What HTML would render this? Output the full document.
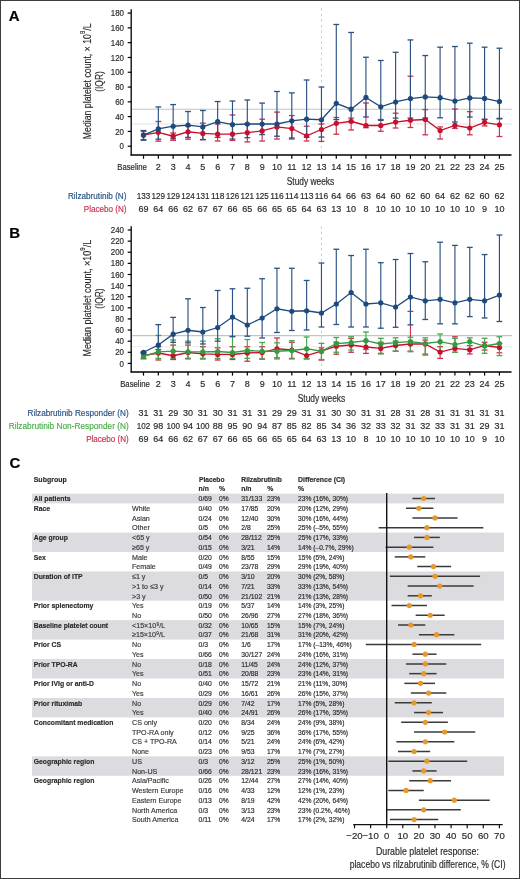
<!DOCTYPE html>
<html><head><meta charset="utf-8"><style>
html,body{margin:0;padding:0;background:#fff;width:520px;height:879px;overflow:hidden}
svg{display:block;will-change:transform}
text{font-family:"Liberation Sans",sans-serif}
</style></head><body>
<svg width="520" height="879" viewBox="0 0 520 879" font-family="Liberation Sans">
<rect x="0" y="0" width="520" height="879" fill="#fff"/>
<text x="8.70" y="20.90" font-size="15" text-anchor="start" fill="#000" stroke="#000" stroke-width="0.18" font-weight="bold">A</text>
<line x1="132.20" y1="109.22" x2="512.00" y2="109.22" stroke="#c4c4c4" stroke-width="1"/>
<line x1="132.20" y1="124.01" x2="512.00" y2="124.01" stroke="#ececec" stroke-width="1.3"/>
<line x1="321.46" y1="8.50" x2="321.46" y2="155.00" stroke="#c4cad2" stroke-width="1" stroke-dasharray="2.3,3.2"/>
<line x1="127.70" y1="146.20" x2="131.20" y2="146.20" stroke="#000" stroke-width="1.2"/>
<text transform="translate(124.00,149.30) scale(0.88,1)" font-size="9" text-anchor="end" fill="#2a2a2a" stroke="#2a2a2a" stroke-width="0.18">0</text>
<line x1="127.70" y1="131.41" x2="131.20" y2="131.41" stroke="#000" stroke-width="1.2"/>
<text transform="translate(124.00,134.51) scale(0.88,1)" font-size="9" text-anchor="end" fill="#2a2a2a" stroke="#2a2a2a" stroke-width="0.18">20</text>
<line x1="127.70" y1="116.62" x2="131.20" y2="116.62" stroke="#000" stroke-width="1.2"/>
<text transform="translate(124.00,119.72) scale(0.88,1)" font-size="9" text-anchor="end" fill="#2a2a2a" stroke="#2a2a2a" stroke-width="0.18">40</text>
<line x1="127.70" y1="101.83" x2="131.20" y2="101.83" stroke="#000" stroke-width="1.2"/>
<text transform="translate(124.00,104.93) scale(0.88,1)" font-size="9" text-anchor="end" fill="#2a2a2a" stroke="#2a2a2a" stroke-width="0.18">60</text>
<line x1="127.70" y1="87.04" x2="131.20" y2="87.04" stroke="#000" stroke-width="1.2"/>
<text transform="translate(124.00,90.14) scale(0.88,1)" font-size="9" text-anchor="end" fill="#2a2a2a" stroke="#2a2a2a" stroke-width="0.18">80</text>
<line x1="127.70" y1="72.25" x2="131.20" y2="72.25" stroke="#000" stroke-width="1.2"/>
<text transform="translate(124.00,75.35) scale(0.88,1)" font-size="9" text-anchor="end" fill="#2a2a2a" stroke="#2a2a2a" stroke-width="0.18">100</text>
<line x1="127.70" y1="57.46" x2="131.20" y2="57.46" stroke="#000" stroke-width="1.2"/>
<text transform="translate(124.00,60.56) scale(0.88,1)" font-size="9" text-anchor="end" fill="#2a2a2a" stroke="#2a2a2a" stroke-width="0.18">120</text>
<line x1="127.70" y1="42.67" x2="131.20" y2="42.67" stroke="#000" stroke-width="1.2"/>
<text transform="translate(124.00,45.77) scale(0.88,1)" font-size="9" text-anchor="end" fill="#2a2a2a" stroke="#2a2a2a" stroke-width="0.18">140</text>
<line x1="127.70" y1="27.88" x2="131.20" y2="27.88" stroke="#000" stroke-width="1.2"/>
<text transform="translate(124.00,30.98) scale(0.88,1)" font-size="9" text-anchor="end" fill="#2a2a2a" stroke="#2a2a2a" stroke-width="0.18">160</text>
<line x1="127.70" y1="13.09" x2="131.20" y2="13.09" stroke="#000" stroke-width="1.2"/>
<text transform="translate(124.00,16.19) scale(0.88,1)" font-size="9" text-anchor="end" fill="#2a2a2a" stroke="#2a2a2a" stroke-width="0.18">180</text>
<line x1="131.20" y1="9.20" x2="131.20" y2="155.60" stroke="#000" stroke-width="1.3"/>
<line x1="130.60" y1="155.00" x2="511.50" y2="155.00" stroke="#000" stroke-width="1.3"/>
<line x1="143.50" y1="155.00" x2="143.50" y2="158.80" stroke="#000" stroke-width="1.2"/>
<line x1="158.33" y1="155.00" x2="158.33" y2="158.80" stroke="#000" stroke-width="1.2"/>
<line x1="173.16" y1="155.00" x2="173.16" y2="158.80" stroke="#000" stroke-width="1.2"/>
<line x1="187.99" y1="155.00" x2="187.99" y2="158.80" stroke="#000" stroke-width="1.2"/>
<line x1="202.82" y1="155.00" x2="202.82" y2="158.80" stroke="#000" stroke-width="1.2"/>
<line x1="217.65" y1="155.00" x2="217.65" y2="158.80" stroke="#000" stroke-width="1.2"/>
<line x1="232.48" y1="155.00" x2="232.48" y2="158.80" stroke="#000" stroke-width="1.2"/>
<line x1="247.31" y1="155.00" x2="247.31" y2="158.80" stroke="#000" stroke-width="1.2"/>
<line x1="262.14" y1="155.00" x2="262.14" y2="158.80" stroke="#000" stroke-width="1.2"/>
<line x1="276.97" y1="155.00" x2="276.97" y2="158.80" stroke="#000" stroke-width="1.2"/>
<line x1="291.80" y1="155.00" x2="291.80" y2="158.80" stroke="#000" stroke-width="1.2"/>
<line x1="306.63" y1="155.00" x2="306.63" y2="158.80" stroke="#000" stroke-width="1.2"/>
<line x1="321.46" y1="155.00" x2="321.46" y2="158.80" stroke="#000" stroke-width="1.2"/>
<line x1="336.29" y1="155.00" x2="336.29" y2="158.80" stroke="#000" stroke-width="1.2"/>
<line x1="351.12" y1="155.00" x2="351.12" y2="158.80" stroke="#000" stroke-width="1.2"/>
<line x1="365.95" y1="155.00" x2="365.95" y2="158.80" stroke="#000" stroke-width="1.2"/>
<line x1="380.78" y1="155.00" x2="380.78" y2="158.80" stroke="#000" stroke-width="1.2"/>
<line x1="395.61" y1="155.00" x2="395.61" y2="158.80" stroke="#000" stroke-width="1.2"/>
<line x1="410.44" y1="155.00" x2="410.44" y2="158.80" stroke="#000" stroke-width="1.2"/>
<line x1="425.27" y1="155.00" x2="425.27" y2="158.80" stroke="#000" stroke-width="1.2"/>
<line x1="440.10" y1="155.00" x2="440.10" y2="158.80" stroke="#000" stroke-width="1.2"/>
<line x1="454.93" y1="155.00" x2="454.93" y2="158.80" stroke="#000" stroke-width="1.2"/>
<line x1="469.76" y1="155.00" x2="469.76" y2="158.80" stroke="#000" stroke-width="1.2"/>
<line x1="484.59" y1="155.00" x2="484.59" y2="158.80" stroke="#000" stroke-width="1.2"/>
<line x1="499.42" y1="155.00" x2="499.42" y2="158.80" stroke="#000" stroke-width="1.2"/>
<text x="132.10" y="170.20" font-size="9" text-anchor="middle" fill="#2b2b2b" stroke="#2b2b2b" stroke-width="0.18" textLength="29.6" lengthAdjust="spacingAndGlyphs">Baseline</text>
<text x="158.33" y="170.20" font-size="9" text-anchor="middle" fill="#2b2b2b" stroke="#2b2b2b" stroke-width="0.18">2</text>
<text x="173.16" y="170.20" font-size="9" text-anchor="middle" fill="#2b2b2b" stroke="#2b2b2b" stroke-width="0.18">3</text>
<text x="187.99" y="170.20" font-size="9" text-anchor="middle" fill="#2b2b2b" stroke="#2b2b2b" stroke-width="0.18">4</text>
<text x="202.82" y="170.20" font-size="9" text-anchor="middle" fill="#2b2b2b" stroke="#2b2b2b" stroke-width="0.18">5</text>
<text x="217.65" y="170.20" font-size="9" text-anchor="middle" fill="#2b2b2b" stroke="#2b2b2b" stroke-width="0.18">6</text>
<text x="232.48" y="170.20" font-size="9" text-anchor="middle" fill="#2b2b2b" stroke="#2b2b2b" stroke-width="0.18">7</text>
<text x="247.31" y="170.20" font-size="9" text-anchor="middle" fill="#2b2b2b" stroke="#2b2b2b" stroke-width="0.18">8</text>
<text x="262.14" y="170.20" font-size="9" text-anchor="middle" fill="#2b2b2b" stroke="#2b2b2b" stroke-width="0.18">9</text>
<text x="276.97" y="170.20" font-size="9" text-anchor="middle" fill="#2b2b2b" stroke="#2b2b2b" stroke-width="0.18">10</text>
<text x="291.80" y="170.20" font-size="9" text-anchor="middle" fill="#2b2b2b" stroke="#2b2b2b" stroke-width="0.18">11</text>
<text x="306.63" y="170.20" font-size="9" text-anchor="middle" fill="#2b2b2b" stroke="#2b2b2b" stroke-width="0.18">12</text>
<text x="321.46" y="170.20" font-size="9" text-anchor="middle" fill="#2b2b2b" stroke="#2b2b2b" stroke-width="0.18">13</text>
<text x="336.29" y="170.20" font-size="9" text-anchor="middle" fill="#2b2b2b" stroke="#2b2b2b" stroke-width="0.18">14</text>
<text x="351.12" y="170.20" font-size="9" text-anchor="middle" fill="#2b2b2b" stroke="#2b2b2b" stroke-width="0.18">15</text>
<text x="365.95" y="170.20" font-size="9" text-anchor="middle" fill="#2b2b2b" stroke="#2b2b2b" stroke-width="0.18">16</text>
<text x="380.78" y="170.20" font-size="9" text-anchor="middle" fill="#2b2b2b" stroke="#2b2b2b" stroke-width="0.18">17</text>
<text x="395.61" y="170.20" font-size="9" text-anchor="middle" fill="#2b2b2b" stroke="#2b2b2b" stroke-width="0.18">18</text>
<text x="410.44" y="170.20" font-size="9" text-anchor="middle" fill="#2b2b2b" stroke="#2b2b2b" stroke-width="0.18">19</text>
<text x="425.27" y="170.20" font-size="9" text-anchor="middle" fill="#2b2b2b" stroke="#2b2b2b" stroke-width="0.18">20</text>
<text x="440.10" y="170.20" font-size="9" text-anchor="middle" fill="#2b2b2b" stroke="#2b2b2b" stroke-width="0.18">21</text>
<text x="454.93" y="170.20" font-size="9" text-anchor="middle" fill="#2b2b2b" stroke="#2b2b2b" stroke-width="0.18">22</text>
<text x="469.76" y="170.20" font-size="9" text-anchor="middle" fill="#2b2b2b" stroke="#2b2b2b" stroke-width="0.18">23</text>
<text x="484.59" y="170.20" font-size="9" text-anchor="middle" fill="#2b2b2b" stroke="#2b2b2b" stroke-width="0.18">24</text>
<text x="499.42" y="170.20" font-size="9" text-anchor="middle" fill="#2b2b2b" stroke="#2b2b2b" stroke-width="0.18">25</text>
<text x="310.50" y="185.00" font-size="10.6" text-anchor="middle" fill="#2b2b2b" stroke="#2b2b2b" stroke-width="0.18" textLength="47.5" lengthAdjust="spacingAndGlyphs">Study weeks</text>
<text transform="translate(91.2,81.35) rotate(-90)" font-size="10.6" text-anchor="middle" fill="#2b2b2b" stroke="#2b2b2b" stroke-width="0.15" textLength="115.8" lengthAdjust="spacingAndGlyphs">Median platelet count, × 10<tspan font-size="7.2" dy="-6.3">9</tspan><tspan dy="6.3">/L</tspan></text>
<text transform="translate(103.4,81.5) rotate(-90)" font-size="10.6" text-anchor="middle" fill="#2b2b2b" stroke="#2b2b2b" stroke-width="0.15" textLength="20.5" lengthAdjust="spacingAndGlyphs">(IQR)</text>
<line x1="143.50" y1="139.54" x2="143.50" y2="131.41" stroke="#c8334f" stroke-width="1.15"/>
<line x1="140.60" y1="131.41" x2="146.40" y2="131.41" stroke="#c8334f" stroke-width="1.3"/>
<line x1="140.60" y1="139.54" x2="146.40" y2="139.54" stroke="#c8334f" stroke-width="1.3"/>
<line x1="158.33" y1="141.17" x2="158.33" y2="121.50" stroke="#c8334f" stroke-width="1.15"/>
<line x1="155.43" y1="121.50" x2="161.23" y2="121.50" stroke="#c8334f" stroke-width="1.3"/>
<line x1="155.43" y1="141.17" x2="161.23" y2="141.17" stroke="#c8334f" stroke-width="1.3"/>
<line x1="173.16" y1="140.28" x2="173.16" y2="133.04" stroke="#c8334f" stroke-width="1.15"/>
<line x1="170.26" y1="133.04" x2="176.06" y2="133.04" stroke="#c8334f" stroke-width="1.3"/>
<line x1="170.26" y1="140.28" x2="176.06" y2="140.28" stroke="#c8334f" stroke-width="1.3"/>
<line x1="187.99" y1="139.17" x2="187.99" y2="126.23" stroke="#c8334f" stroke-width="1.15"/>
<line x1="185.09" y1="126.23" x2="190.89" y2="126.23" stroke="#c8334f" stroke-width="1.3"/>
<line x1="185.09" y1="139.17" x2="190.89" y2="139.17" stroke="#c8334f" stroke-width="1.3"/>
<line x1="202.82" y1="139.54" x2="202.82" y2="123.13" stroke="#c8334f" stroke-width="1.15"/>
<line x1="199.92" y1="123.13" x2="205.72" y2="123.13" stroke="#c8334f" stroke-width="1.3"/>
<line x1="199.92" y1="139.54" x2="205.72" y2="139.54" stroke="#c8334f" stroke-width="1.3"/>
<line x1="217.65" y1="141.02" x2="217.65" y2="124.01" stroke="#c8334f" stroke-width="1.15"/>
<line x1="214.75" y1="124.01" x2="220.55" y2="124.01" stroke="#c8334f" stroke-width="1.3"/>
<line x1="214.75" y1="141.02" x2="220.55" y2="141.02" stroke="#c8334f" stroke-width="1.3"/>
<line x1="232.48" y1="140.43" x2="232.48" y2="114.99" stroke="#c8334f" stroke-width="1.15"/>
<line x1="229.58" y1="114.99" x2="235.38" y2="114.99" stroke="#c8334f" stroke-width="1.3"/>
<line x1="229.58" y1="140.43" x2="235.38" y2="140.43" stroke="#c8334f" stroke-width="1.3"/>
<line x1="247.31" y1="141.91" x2="247.31" y2="124.01" stroke="#c8334f" stroke-width="1.15"/>
<line x1="244.41" y1="124.01" x2="250.21" y2="124.01" stroke="#c8334f" stroke-width="1.3"/>
<line x1="244.41" y1="141.91" x2="250.21" y2="141.91" stroke="#c8334f" stroke-width="1.3"/>
<line x1="262.14" y1="141.02" x2="262.14" y2="119.21" stroke="#c8334f" stroke-width="1.15"/>
<line x1="259.24" y1="119.21" x2="265.04" y2="119.21" stroke="#c8334f" stroke-width="1.3"/>
<line x1="259.24" y1="141.02" x2="265.04" y2="141.02" stroke="#c8334f" stroke-width="1.3"/>
<line x1="276.97" y1="139.03" x2="276.97" y2="112.11" stroke="#c8334f" stroke-width="1.15"/>
<line x1="274.07" y1="112.11" x2="279.87" y2="112.11" stroke="#c8334f" stroke-width="1.3"/>
<line x1="274.07" y1="139.03" x2="279.87" y2="139.03" stroke="#c8334f" stroke-width="1.3"/>
<line x1="291.80" y1="139.03" x2="291.80" y2="115.58" stroke="#c8334f" stroke-width="1.15"/>
<line x1="288.90" y1="115.58" x2="294.70" y2="115.58" stroke="#c8334f" stroke-width="1.3"/>
<line x1="288.90" y1="139.03" x2="294.70" y2="139.03" stroke="#c8334f" stroke-width="1.3"/>
<line x1="306.63" y1="141.02" x2="306.63" y2="126.23" stroke="#c8334f" stroke-width="1.15"/>
<line x1="303.73" y1="126.23" x2="309.53" y2="126.23" stroke="#c8334f" stroke-width="1.3"/>
<line x1="303.73" y1="141.02" x2="309.53" y2="141.02" stroke="#c8334f" stroke-width="1.3"/>
<line x1="321.46" y1="141.39" x2="321.46" y2="124.01" stroke="#c8334f" stroke-width="1.15"/>
<line x1="318.56" y1="124.01" x2="324.36" y2="124.01" stroke="#c8334f" stroke-width="1.3"/>
<line x1="318.56" y1="141.39" x2="324.36" y2="141.39" stroke="#c8334f" stroke-width="1.3"/>
<line x1="336.29" y1="134.22" x2="336.29" y2="117.51" stroke="#c8334f" stroke-width="1.15"/>
<line x1="333.39" y1="117.51" x2="339.19" y2="117.51" stroke="#c8334f" stroke-width="1.3"/>
<line x1="333.39" y1="134.22" x2="339.19" y2="134.22" stroke="#c8334f" stroke-width="1.3"/>
<line x1="351.12" y1="130.00" x2="351.12" y2="118.10" stroke="#c8334f" stroke-width="1.15"/>
<line x1="348.22" y1="118.10" x2="354.02" y2="118.10" stroke="#c8334f" stroke-width="1.3"/>
<line x1="348.22" y1="130.00" x2="354.02" y2="130.00" stroke="#c8334f" stroke-width="1.3"/>
<line x1="365.95" y1="127.71" x2="365.95" y2="103.01" stroke="#c8334f" stroke-width="1.15"/>
<line x1="363.05" y1="103.01" x2="368.85" y2="103.01" stroke="#c8334f" stroke-width="1.3"/>
<line x1="363.05" y1="127.71" x2="368.85" y2="127.71" stroke="#c8334f" stroke-width="1.3"/>
<line x1="380.78" y1="131.26" x2="380.78" y2="119.50" stroke="#c8334f" stroke-width="1.15"/>
<line x1="377.88" y1="119.50" x2="383.68" y2="119.50" stroke="#c8334f" stroke-width="1.3"/>
<line x1="377.88" y1="131.26" x2="383.68" y2="131.26" stroke="#c8334f" stroke-width="1.3"/>
<line x1="395.61" y1="128.01" x2="395.61" y2="113.22" stroke="#c8334f" stroke-width="1.15"/>
<line x1="392.71" y1="113.22" x2="398.51" y2="113.22" stroke="#c8334f" stroke-width="1.3"/>
<line x1="392.71" y1="128.01" x2="398.51" y2="128.01" stroke="#c8334f" stroke-width="1.3"/>
<line x1="410.44" y1="127.49" x2="410.44" y2="76.24" stroke="#c8334f" stroke-width="1.15"/>
<line x1="407.54" y1="76.24" x2="413.34" y2="76.24" stroke="#c8334f" stroke-width="1.3"/>
<line x1="407.54" y1="127.49" x2="413.34" y2="127.49" stroke="#c8334f" stroke-width="1.3"/>
<line x1="425.27" y1="134.81" x2="425.27" y2="109.59" stroke="#c8334f" stroke-width="1.15"/>
<line x1="422.37" y1="109.59" x2="428.17" y2="109.59" stroke="#c8334f" stroke-width="1.3"/>
<line x1="422.37" y1="134.81" x2="428.17" y2="134.81" stroke="#c8334f" stroke-width="1.3"/>
<line x1="440.10" y1="139.03" x2="440.10" y2="126.90" stroke="#c8334f" stroke-width="1.15"/>
<line x1="437.20" y1="126.90" x2="443.00" y2="126.90" stroke="#c8334f" stroke-width="1.3"/>
<line x1="437.20" y1="139.03" x2="443.00" y2="139.03" stroke="#c8334f" stroke-width="1.3"/>
<line x1="454.93" y1="128.45" x2="454.93" y2="109.00" stroke="#c8334f" stroke-width="1.15"/>
<line x1="452.03" y1="109.00" x2="457.83" y2="109.00" stroke="#c8334f" stroke-width="1.3"/>
<line x1="452.03" y1="128.45" x2="457.83" y2="128.45" stroke="#c8334f" stroke-width="1.3"/>
<line x1="469.76" y1="134.81" x2="469.76" y2="111.67" stroke="#c8334f" stroke-width="1.15"/>
<line x1="466.86" y1="111.67" x2="472.66" y2="111.67" stroke="#c8334f" stroke-width="1.3"/>
<line x1="466.86" y1="134.81" x2="472.66" y2="134.81" stroke="#c8334f" stroke-width="1.3"/>
<line x1="484.59" y1="125.94" x2="484.59" y2="119.13" stroke="#c8334f" stroke-width="1.15"/>
<line x1="481.69" y1="119.13" x2="487.49" y2="119.13" stroke="#c8334f" stroke-width="1.3"/>
<line x1="481.69" y1="125.94" x2="487.49" y2="125.94" stroke="#c8334f" stroke-width="1.3"/>
<line x1="499.42" y1="136.51" x2="499.42" y2="118.91" stroke="#c8334f" stroke-width="1.15"/>
<line x1="496.52" y1="118.91" x2="502.32" y2="118.91" stroke="#c8334f" stroke-width="1.3"/>
<line x1="496.52" y1="136.51" x2="502.32" y2="136.51" stroke="#c8334f" stroke-width="1.3"/>
<line x1="143.50" y1="140.28" x2="143.50" y2="130.52" stroke="#2b5282" stroke-width="1.15"/>
<line x1="140.60" y1="130.52" x2="146.40" y2="130.52" stroke="#2b5282" stroke-width="1.3"/>
<line x1="140.60" y1="140.28" x2="146.40" y2="140.28" stroke="#2b5282" stroke-width="1.3"/>
<line x1="158.33" y1="139.17" x2="158.33" y2="106.93" stroke="#2b5282" stroke-width="1.15"/>
<line x1="155.43" y1="106.93" x2="161.23" y2="106.93" stroke="#2b5282" stroke-width="1.3"/>
<line x1="155.43" y1="139.17" x2="161.23" y2="139.17" stroke="#2b5282" stroke-width="1.3"/>
<line x1="173.16" y1="138.80" x2="173.16" y2="104.57" stroke="#2b5282" stroke-width="1.15"/>
<line x1="170.26" y1="104.57" x2="176.06" y2="104.57" stroke="#2b5282" stroke-width="1.3"/>
<line x1="170.26" y1="138.80" x2="176.06" y2="138.80" stroke="#2b5282" stroke-width="1.3"/>
<line x1="187.99" y1="137.40" x2="187.99" y2="111.52" stroke="#2b5282" stroke-width="1.15"/>
<line x1="185.09" y1="111.52" x2="190.89" y2="111.52" stroke="#2b5282" stroke-width="1.3"/>
<line x1="185.09" y1="137.40" x2="190.89" y2="137.40" stroke="#2b5282" stroke-width="1.3"/>
<line x1="202.82" y1="139.69" x2="202.82" y2="110.48" stroke="#2b5282" stroke-width="1.15"/>
<line x1="199.92" y1="110.48" x2="205.72" y2="110.48" stroke="#2b5282" stroke-width="1.3"/>
<line x1="199.92" y1="139.69" x2="205.72" y2="139.69" stroke="#2b5282" stroke-width="1.3"/>
<line x1="217.65" y1="137.33" x2="217.65" y2="101.53" stroke="#2b5282" stroke-width="1.15"/>
<line x1="214.75" y1="101.53" x2="220.55" y2="101.53" stroke="#2b5282" stroke-width="1.3"/>
<line x1="214.75" y1="137.33" x2="220.55" y2="137.33" stroke="#2b5282" stroke-width="1.3"/>
<line x1="232.48" y1="139.03" x2="232.48" y2="101.02" stroke="#2b5282" stroke-width="1.15"/>
<line x1="229.58" y1="101.02" x2="235.38" y2="101.02" stroke="#2b5282" stroke-width="1.3"/>
<line x1="229.58" y1="139.03" x2="235.38" y2="139.03" stroke="#2b5282" stroke-width="1.3"/>
<line x1="247.31" y1="137.70" x2="247.31" y2="99.98" stroke="#2b5282" stroke-width="1.15"/>
<line x1="244.41" y1="99.98" x2="250.21" y2="99.98" stroke="#2b5282" stroke-width="1.3"/>
<line x1="244.41" y1="137.70" x2="250.21" y2="137.70" stroke="#2b5282" stroke-width="1.3"/>
<line x1="262.14" y1="134.59" x2="262.14" y2="103.09" stroke="#2b5282" stroke-width="1.15"/>
<line x1="259.24" y1="103.09" x2="265.04" y2="103.09" stroke="#2b5282" stroke-width="1.3"/>
<line x1="259.24" y1="134.59" x2="265.04" y2="134.59" stroke="#2b5282" stroke-width="1.3"/>
<line x1="276.97" y1="136.22" x2="276.97" y2="91.48" stroke="#2b5282" stroke-width="1.15"/>
<line x1="274.07" y1="91.48" x2="279.87" y2="91.48" stroke="#2b5282" stroke-width="1.3"/>
<line x1="274.07" y1="136.22" x2="279.87" y2="136.22" stroke="#2b5282" stroke-width="1.3"/>
<line x1="291.80" y1="137.99" x2="291.80" y2="92.88" stroke="#2b5282" stroke-width="1.15"/>
<line x1="288.90" y1="92.88" x2="294.70" y2="92.88" stroke="#2b5282" stroke-width="1.3"/>
<line x1="288.90" y1="137.99" x2="294.70" y2="137.99" stroke="#2b5282" stroke-width="1.3"/>
<line x1="306.63" y1="137.33" x2="306.63" y2="80.01" stroke="#2b5282" stroke-width="1.15"/>
<line x1="303.73" y1="80.01" x2="309.53" y2="80.01" stroke="#2b5282" stroke-width="1.3"/>
<line x1="303.73" y1="137.33" x2="309.53" y2="137.33" stroke="#2b5282" stroke-width="1.3"/>
<line x1="321.46" y1="137.03" x2="321.46" y2="87.04" stroke="#2b5282" stroke-width="1.15"/>
<line x1="318.56" y1="87.04" x2="324.36" y2="87.04" stroke="#2b5282" stroke-width="1.3"/>
<line x1="318.56" y1="137.03" x2="324.36" y2="137.03" stroke="#2b5282" stroke-width="1.3"/>
<line x1="336.29" y1="119.58" x2="336.29" y2="24.48" stroke="#2b5282" stroke-width="1.15"/>
<line x1="333.39" y1="24.48" x2="339.19" y2="24.48" stroke="#2b5282" stroke-width="1.3"/>
<line x1="333.39" y1="119.58" x2="339.19" y2="119.58" stroke="#2b5282" stroke-width="1.3"/>
<line x1="351.12" y1="121.80" x2="351.12" y2="32.46" stroke="#2b5282" stroke-width="1.15"/>
<line x1="348.22" y1="32.46" x2="354.02" y2="32.46" stroke="#2b5282" stroke-width="1.3"/>
<line x1="348.22" y1="121.80" x2="354.02" y2="121.80" stroke="#2b5282" stroke-width="1.3"/>
<line x1="365.95" y1="116.99" x2="365.95" y2="57.24" stroke="#2b5282" stroke-width="1.15"/>
<line x1="363.05" y1="57.24" x2="368.85" y2="57.24" stroke="#2b5282" stroke-width="1.3"/>
<line x1="363.05" y1="116.99" x2="368.85" y2="116.99" stroke="#2b5282" stroke-width="1.3"/>
<line x1="380.78" y1="120.32" x2="380.78" y2="60.49" stroke="#2b5282" stroke-width="1.15"/>
<line x1="377.88" y1="60.49" x2="383.68" y2="60.49" stroke="#2b5282" stroke-width="1.3"/>
<line x1="377.88" y1="120.32" x2="383.68" y2="120.32" stroke="#2b5282" stroke-width="1.3"/>
<line x1="395.61" y1="118.10" x2="395.61" y2="52.28" stroke="#2b5282" stroke-width="1.15"/>
<line x1="392.71" y1="52.28" x2="398.51" y2="52.28" stroke="#2b5282" stroke-width="1.3"/>
<line x1="392.71" y1="118.10" x2="398.51" y2="118.10" stroke="#2b5282" stroke-width="1.3"/>
<line x1="410.44" y1="118.10" x2="410.44" y2="39.93" stroke="#2b5282" stroke-width="1.15"/>
<line x1="407.54" y1="39.93" x2="413.34" y2="39.93" stroke="#2b5282" stroke-width="1.3"/>
<line x1="407.54" y1="118.10" x2="413.34" y2="118.10" stroke="#2b5282" stroke-width="1.3"/>
<line x1="425.27" y1="118.10" x2="425.27" y2="55.54" stroke="#2b5282" stroke-width="1.15"/>
<line x1="422.37" y1="55.54" x2="428.17" y2="55.54" stroke="#2b5282" stroke-width="1.3"/>
<line x1="422.37" y1="118.10" x2="428.17" y2="118.10" stroke="#2b5282" stroke-width="1.3"/>
<line x1="440.10" y1="117.80" x2="440.10" y2="47.18" stroke="#2b5282" stroke-width="1.15"/>
<line x1="437.20" y1="47.18" x2="443.00" y2="47.18" stroke="#2b5282" stroke-width="1.3"/>
<line x1="437.20" y1="117.80" x2="443.00" y2="117.80" stroke="#2b5282" stroke-width="1.3"/>
<line x1="454.93" y1="122.02" x2="454.93" y2="46.52" stroke="#2b5282" stroke-width="1.15"/>
<line x1="452.03" y1="46.52" x2="457.83" y2="46.52" stroke="#2b5282" stroke-width="1.3"/>
<line x1="452.03" y1="122.02" x2="457.83" y2="122.02" stroke="#2b5282" stroke-width="1.3"/>
<line x1="469.76" y1="116.99" x2="469.76" y2="43.19" stroke="#2b5282" stroke-width="1.15"/>
<line x1="466.86" y1="43.19" x2="472.66" y2="43.19" stroke="#2b5282" stroke-width="1.3"/>
<line x1="466.86" y1="116.99" x2="472.66" y2="116.99" stroke="#2b5282" stroke-width="1.3"/>
<line x1="484.59" y1="119.58" x2="484.59" y2="47.18" stroke="#2b5282" stroke-width="1.15"/>
<line x1="481.69" y1="47.18" x2="487.49" y2="47.18" stroke="#2b5282" stroke-width="1.3"/>
<line x1="481.69" y1="119.58" x2="487.49" y2="119.58" stroke="#2b5282" stroke-width="1.3"/>
<line x1="499.42" y1="118.39" x2="499.42" y2="48.22" stroke="#2b5282" stroke-width="1.15"/>
<line x1="496.52" y1="48.22" x2="502.32" y2="48.22" stroke="#2b5282" stroke-width="1.3"/>
<line x1="496.52" y1="118.39" x2="502.32" y2="118.39" stroke="#2b5282" stroke-width="1.3"/>
<polyline points="143.50,135.11 158.33,132.30 173.16,136.22 187.99,131.78 202.82,133.41 217.65,134.22 232.48,134.22 247.31,132.67 262.14,130.97 276.97,126.90 291.80,128.53 306.63,135.77 321.46,129.49 336.29,123.28 351.12,121.28 365.95,125.49 380.78,125.49 395.61,122.02 410.44,120.24 425.27,119.50 440.10,130.52 454.93,125.42 469.76,128.01 484.59,122.31 499.42,124.83" fill="none" stroke="#c8102e" stroke-width="1.3"/>
<circle cx="143.50" cy="135.11" r="2.6" fill="#c8102e"/>
<circle cx="158.33" cy="132.30" r="2.6" fill="#c8102e"/>
<circle cx="173.16" cy="136.22" r="2.6" fill="#c8102e"/>
<circle cx="187.99" cy="131.78" r="2.6" fill="#c8102e"/>
<circle cx="202.82" cy="133.41" r="2.6" fill="#c8102e"/>
<circle cx="217.65" cy="134.22" r="2.6" fill="#c8102e"/>
<circle cx="232.48" cy="134.22" r="2.6" fill="#c8102e"/>
<circle cx="247.31" cy="132.67" r="2.6" fill="#c8102e"/>
<circle cx="262.14" cy="130.97" r="2.6" fill="#c8102e"/>
<circle cx="276.97" cy="126.90" r="2.6" fill="#c8102e"/>
<circle cx="291.80" cy="128.53" r="2.6" fill="#c8102e"/>
<circle cx="306.63" cy="135.77" r="2.6" fill="#c8102e"/>
<circle cx="321.46" cy="129.49" r="2.6" fill="#c8102e"/>
<circle cx="336.29" cy="123.28" r="2.6" fill="#c8102e"/>
<circle cx="351.12" cy="121.28" r="2.6" fill="#c8102e"/>
<circle cx="365.95" cy="125.49" r="2.6" fill="#c8102e"/>
<circle cx="380.78" cy="125.49" r="2.6" fill="#c8102e"/>
<circle cx="395.61" cy="122.02" r="2.6" fill="#c8102e"/>
<circle cx="410.44" cy="120.24" r="2.6" fill="#c8102e"/>
<circle cx="425.27" cy="119.50" r="2.6" fill="#c8102e"/>
<circle cx="440.10" cy="130.52" r="2.6" fill="#c8102e"/>
<circle cx="454.93" cy="125.42" r="2.6" fill="#c8102e"/>
<circle cx="469.76" cy="128.01" r="2.6" fill="#c8102e"/>
<circle cx="484.59" cy="122.31" r="2.6" fill="#c8102e"/>
<circle cx="499.42" cy="124.83" r="2.6" fill="#c8102e"/>
<polyline points="143.50,135.11 158.33,128.90 173.16,126.23 187.99,125.12 202.82,126.90 217.65,121.72 232.48,124.61 247.31,124.01 262.14,124.01 276.97,124.01 291.80,120.84 306.63,119.21 321.46,119.73 336.29,103.31 351.12,109.22 365.95,97.47 380.78,106.78 395.61,101.98 410.44,98.58 425.27,96.95 440.10,97.69 454.93,101.09 469.76,97.91 484.59,98.43 499.42,101.53" fill="none" stroke="#1d4a7c" stroke-width="1.3"/>
<circle cx="143.50" cy="135.11" r="2.6" fill="#1d4a7c"/>
<circle cx="158.33" cy="128.90" r="2.6" fill="#1d4a7c"/>
<circle cx="173.16" cy="126.23" r="2.6" fill="#1d4a7c"/>
<circle cx="187.99" cy="125.12" r="2.6" fill="#1d4a7c"/>
<circle cx="202.82" cy="126.90" r="2.6" fill="#1d4a7c"/>
<circle cx="217.65" cy="121.72" r="2.6" fill="#1d4a7c"/>
<circle cx="232.48" cy="124.61" r="2.6" fill="#1d4a7c"/>
<circle cx="247.31" cy="124.01" r="2.6" fill="#1d4a7c"/>
<circle cx="262.14" cy="124.01" r="2.6" fill="#1d4a7c"/>
<circle cx="276.97" cy="124.01" r="2.6" fill="#1d4a7c"/>
<circle cx="291.80" cy="120.84" r="2.6" fill="#1d4a7c"/>
<circle cx="306.63" cy="119.21" r="2.6" fill="#1d4a7c"/>
<circle cx="321.46" cy="119.73" r="2.6" fill="#1d4a7c"/>
<circle cx="336.29" cy="103.31" r="2.6" fill="#1d4a7c"/>
<circle cx="351.12" cy="109.22" r="2.6" fill="#1d4a7c"/>
<circle cx="365.95" cy="97.47" r="2.6" fill="#1d4a7c"/>
<circle cx="380.78" cy="106.78" r="2.6" fill="#1d4a7c"/>
<circle cx="395.61" cy="101.98" r="2.6" fill="#1d4a7c"/>
<circle cx="410.44" cy="98.58" r="2.6" fill="#1d4a7c"/>
<circle cx="425.27" cy="96.95" r="2.6" fill="#1d4a7c"/>
<circle cx="440.10" cy="97.69" r="2.6" fill="#1d4a7c"/>
<circle cx="454.93" cy="101.09" r="2.6" fill="#1d4a7c"/>
<circle cx="469.76" cy="97.91" r="2.6" fill="#1d4a7c"/>
<circle cx="484.59" cy="98.43" r="2.6" fill="#1d4a7c"/>
<circle cx="499.42" cy="101.53" r="2.6" fill="#1d4a7c"/>
<text x="126.50" y="198.90" font-size="9" text-anchor="end" fill="#2b5385" stroke="#2b5385" stroke-width="0.18" textLength="58.6" lengthAdjust="spacingAndGlyphs">Rilzabrutinib (N)</text>
<text x="126.50" y="211.80" font-size="9" text-anchor="end" fill="#c8334f" stroke="#c8334f" stroke-width="0.18" textLength="42.7" lengthAdjust="spacingAndGlyphs">Placebo (N)</text>
<text x="143.50" y="198.90" font-size="9" text-anchor="middle" fill="#2b2b2b" stroke="#2b2b2b" stroke-width="0.18" textLength="13.5" lengthAdjust="spacingAndGlyphs">133</text>
<text x="158.33" y="198.90" font-size="9" text-anchor="middle" fill="#2b2b2b" stroke="#2b2b2b" stroke-width="0.18" textLength="13.5" lengthAdjust="spacingAndGlyphs">129</text>
<text x="173.16" y="198.90" font-size="9" text-anchor="middle" fill="#2b2b2b" stroke="#2b2b2b" stroke-width="0.18" textLength="13.5" lengthAdjust="spacingAndGlyphs">129</text>
<text x="187.99" y="198.90" font-size="9" text-anchor="middle" fill="#2b2b2b" stroke="#2b2b2b" stroke-width="0.18" textLength="13.5" lengthAdjust="spacingAndGlyphs">124</text>
<text x="202.82" y="198.90" font-size="9" text-anchor="middle" fill="#2b2b2b" stroke="#2b2b2b" stroke-width="0.18" textLength="13.5" lengthAdjust="spacingAndGlyphs">131</text>
<text x="217.65" y="198.90" font-size="9" text-anchor="middle" fill="#2b2b2b" stroke="#2b2b2b" stroke-width="0.18" textLength="13.5" lengthAdjust="spacingAndGlyphs">118</text>
<text x="232.48" y="198.90" font-size="9" text-anchor="middle" fill="#2b2b2b" stroke="#2b2b2b" stroke-width="0.18" textLength="13.5" lengthAdjust="spacingAndGlyphs">126</text>
<text x="247.31" y="198.90" font-size="9" text-anchor="middle" fill="#2b2b2b" stroke="#2b2b2b" stroke-width="0.18" textLength="13.5" lengthAdjust="spacingAndGlyphs">121</text>
<text x="262.14" y="198.90" font-size="9" text-anchor="middle" fill="#2b2b2b" stroke="#2b2b2b" stroke-width="0.18" textLength="13.5" lengthAdjust="spacingAndGlyphs">125</text>
<text x="276.97" y="198.90" font-size="9" text-anchor="middle" fill="#2b2b2b" stroke="#2b2b2b" stroke-width="0.18" textLength="13.5" lengthAdjust="spacingAndGlyphs">116</text>
<text x="291.80" y="198.90" font-size="9" text-anchor="middle" fill="#2b2b2b" stroke="#2b2b2b" stroke-width="0.18" textLength="13.5" lengthAdjust="spacingAndGlyphs">114</text>
<text x="306.63" y="198.90" font-size="9" text-anchor="middle" fill="#2b2b2b" stroke="#2b2b2b" stroke-width="0.18" textLength="13.5" lengthAdjust="spacingAndGlyphs">113</text>
<text x="321.46" y="198.90" font-size="9" text-anchor="middle" fill="#2b2b2b" stroke="#2b2b2b" stroke-width="0.18" textLength="13.5" lengthAdjust="spacingAndGlyphs">116</text>
<text x="336.29" y="198.90" font-size="9" text-anchor="middle" fill="#2b2b2b" stroke="#2b2b2b" stroke-width="0.18">64</text>
<text x="351.12" y="198.90" font-size="9" text-anchor="middle" fill="#2b2b2b" stroke="#2b2b2b" stroke-width="0.18">66</text>
<text x="365.95" y="198.90" font-size="9" text-anchor="middle" fill="#2b2b2b" stroke="#2b2b2b" stroke-width="0.18">63</text>
<text x="380.78" y="198.90" font-size="9" text-anchor="middle" fill="#2b2b2b" stroke="#2b2b2b" stroke-width="0.18">64</text>
<text x="395.61" y="198.90" font-size="9" text-anchor="middle" fill="#2b2b2b" stroke="#2b2b2b" stroke-width="0.18">60</text>
<text x="410.44" y="198.90" font-size="9" text-anchor="middle" fill="#2b2b2b" stroke="#2b2b2b" stroke-width="0.18">62</text>
<text x="425.27" y="198.90" font-size="9" text-anchor="middle" fill="#2b2b2b" stroke="#2b2b2b" stroke-width="0.18">60</text>
<text x="440.10" y="198.90" font-size="9" text-anchor="middle" fill="#2b2b2b" stroke="#2b2b2b" stroke-width="0.18">64</text>
<text x="454.93" y="198.90" font-size="9" text-anchor="middle" fill="#2b2b2b" stroke="#2b2b2b" stroke-width="0.18">62</text>
<text x="469.76" y="198.90" font-size="9" text-anchor="middle" fill="#2b2b2b" stroke="#2b2b2b" stroke-width="0.18">62</text>
<text x="484.59" y="198.90" font-size="9" text-anchor="middle" fill="#2b2b2b" stroke="#2b2b2b" stroke-width="0.18">60</text>
<text x="499.42" y="198.90" font-size="9" text-anchor="middle" fill="#2b2b2b" stroke="#2b2b2b" stroke-width="0.18">62</text>
<text x="143.50" y="211.80" font-size="9" text-anchor="middle" fill="#2b2b2b" stroke="#2b2b2b" stroke-width="0.18">69</text>
<text x="158.33" y="211.80" font-size="9" text-anchor="middle" fill="#2b2b2b" stroke="#2b2b2b" stroke-width="0.18">64</text>
<text x="173.16" y="211.80" font-size="9" text-anchor="middle" fill="#2b2b2b" stroke="#2b2b2b" stroke-width="0.18">66</text>
<text x="187.99" y="211.80" font-size="9" text-anchor="middle" fill="#2b2b2b" stroke="#2b2b2b" stroke-width="0.18">62</text>
<text x="202.82" y="211.80" font-size="9" text-anchor="middle" fill="#2b2b2b" stroke="#2b2b2b" stroke-width="0.18">67</text>
<text x="217.65" y="211.80" font-size="9" text-anchor="middle" fill="#2b2b2b" stroke="#2b2b2b" stroke-width="0.18">67</text>
<text x="232.48" y="211.80" font-size="9" text-anchor="middle" fill="#2b2b2b" stroke="#2b2b2b" stroke-width="0.18">66</text>
<text x="247.31" y="211.80" font-size="9" text-anchor="middle" fill="#2b2b2b" stroke="#2b2b2b" stroke-width="0.18">65</text>
<text x="262.14" y="211.80" font-size="9" text-anchor="middle" fill="#2b2b2b" stroke="#2b2b2b" stroke-width="0.18">66</text>
<text x="276.97" y="211.80" font-size="9" text-anchor="middle" fill="#2b2b2b" stroke="#2b2b2b" stroke-width="0.18">65</text>
<text x="291.80" y="211.80" font-size="9" text-anchor="middle" fill="#2b2b2b" stroke="#2b2b2b" stroke-width="0.18">65</text>
<text x="306.63" y="211.80" font-size="9" text-anchor="middle" fill="#2b2b2b" stroke="#2b2b2b" stroke-width="0.18">64</text>
<text x="321.46" y="211.80" font-size="9" text-anchor="middle" fill="#2b2b2b" stroke="#2b2b2b" stroke-width="0.18">63</text>
<text x="336.29" y="211.80" font-size="9" text-anchor="middle" fill="#2b2b2b" stroke="#2b2b2b" stroke-width="0.18">13</text>
<text x="351.12" y="211.80" font-size="9" text-anchor="middle" fill="#2b2b2b" stroke="#2b2b2b" stroke-width="0.18">10</text>
<text x="365.95" y="211.80" font-size="9" text-anchor="middle" fill="#2b2b2b" stroke="#2b2b2b" stroke-width="0.18">8</text>
<text x="380.78" y="211.80" font-size="9" text-anchor="middle" fill="#2b2b2b" stroke="#2b2b2b" stroke-width="0.18">10</text>
<text x="395.61" y="211.80" font-size="9" text-anchor="middle" fill="#2b2b2b" stroke="#2b2b2b" stroke-width="0.18">10</text>
<text x="410.44" y="211.80" font-size="9" text-anchor="middle" fill="#2b2b2b" stroke="#2b2b2b" stroke-width="0.18">10</text>
<text x="425.27" y="211.80" font-size="9" text-anchor="middle" fill="#2b2b2b" stroke="#2b2b2b" stroke-width="0.18">10</text>
<text x="440.10" y="211.80" font-size="9" text-anchor="middle" fill="#2b2b2b" stroke="#2b2b2b" stroke-width="0.18">10</text>
<text x="454.93" y="211.80" font-size="9" text-anchor="middle" fill="#2b2b2b" stroke="#2b2b2b" stroke-width="0.18">10</text>
<text x="469.76" y="211.80" font-size="9" text-anchor="middle" fill="#2b2b2b" stroke="#2b2b2b" stroke-width="0.18">10</text>
<text x="484.59" y="211.80" font-size="9" text-anchor="middle" fill="#2b2b2b" stroke="#2b2b2b" stroke-width="0.18">9</text>
<text x="499.42" y="211.80" font-size="9" text-anchor="middle" fill="#2b2b2b" stroke="#2b2b2b" stroke-width="0.18">10</text>
<text x="9.20" y="238.10" font-size="15" text-anchor="start" fill="#000" stroke="#000" stroke-width="0.18" font-weight="bold">B</text>
<line x1="132.20" y1="335.61" x2="512.00" y2="335.61" stroke="#c4c4c4" stroke-width="1.2"/>
<line x1="132.20" y1="346.73" x2="512.00" y2="346.73" stroke="#ececec" stroke-width="1.2"/>
<line x1="321.46" y1="226.20" x2="321.46" y2="372.00" stroke="#c4cad2" stroke-width="1" stroke-dasharray="2.3,3.2"/>
<line x1="127.70" y1="363.40" x2="131.20" y2="363.40" stroke="#000" stroke-width="1.2"/>
<text transform="translate(124.00,366.50) scale(0.88,1)" font-size="9" text-anchor="end" fill="#2a2a2a" stroke="#2a2a2a" stroke-width="0.18">0</text>
<line x1="127.70" y1="352.28" x2="131.20" y2="352.28" stroke="#000" stroke-width="1.2"/>
<text transform="translate(124.00,355.38) scale(0.88,1)" font-size="9" text-anchor="end" fill="#2a2a2a" stroke="#2a2a2a" stroke-width="0.18">20</text>
<line x1="127.70" y1="341.17" x2="131.20" y2="341.17" stroke="#000" stroke-width="1.2"/>
<text transform="translate(124.00,344.27) scale(0.88,1)" font-size="9" text-anchor="end" fill="#2a2a2a" stroke="#2a2a2a" stroke-width="0.18">40</text>
<line x1="127.70" y1="330.05" x2="131.20" y2="330.05" stroke="#000" stroke-width="1.2"/>
<text transform="translate(124.00,333.15) scale(0.88,1)" font-size="9" text-anchor="end" fill="#2a2a2a" stroke="#2a2a2a" stroke-width="0.18">60</text>
<line x1="127.70" y1="318.94" x2="131.20" y2="318.94" stroke="#000" stroke-width="1.2"/>
<text transform="translate(124.00,322.04) scale(0.88,1)" font-size="9" text-anchor="end" fill="#2a2a2a" stroke="#2a2a2a" stroke-width="0.18">80</text>
<line x1="127.70" y1="307.82" x2="131.20" y2="307.82" stroke="#000" stroke-width="1.2"/>
<text transform="translate(124.00,310.92) scale(0.88,1)" font-size="9" text-anchor="end" fill="#2a2a2a" stroke="#2a2a2a" stroke-width="0.18">100</text>
<line x1="127.70" y1="296.70" x2="131.20" y2="296.70" stroke="#000" stroke-width="1.2"/>
<text transform="translate(124.00,299.80) scale(0.88,1)" font-size="9" text-anchor="end" fill="#2a2a2a" stroke="#2a2a2a" stroke-width="0.18">120</text>
<line x1="127.70" y1="285.59" x2="131.20" y2="285.59" stroke="#000" stroke-width="1.2"/>
<text transform="translate(124.00,288.69) scale(0.88,1)" font-size="9" text-anchor="end" fill="#2a2a2a" stroke="#2a2a2a" stroke-width="0.18">140</text>
<line x1="127.70" y1="274.47" x2="131.20" y2="274.47" stroke="#000" stroke-width="1.2"/>
<text transform="translate(124.00,277.57) scale(0.88,1)" font-size="9" text-anchor="end" fill="#2a2a2a" stroke="#2a2a2a" stroke-width="0.18">160</text>
<line x1="127.70" y1="263.36" x2="131.20" y2="263.36" stroke="#000" stroke-width="1.2"/>
<text transform="translate(124.00,266.46) scale(0.88,1)" font-size="9" text-anchor="end" fill="#2a2a2a" stroke="#2a2a2a" stroke-width="0.18">180</text>
<line x1="127.70" y1="252.24" x2="131.20" y2="252.24" stroke="#000" stroke-width="1.2"/>
<text transform="translate(124.00,255.34) scale(0.88,1)" font-size="9" text-anchor="end" fill="#2a2a2a" stroke="#2a2a2a" stroke-width="0.18">200</text>
<line x1="127.70" y1="241.12" x2="131.20" y2="241.12" stroke="#000" stroke-width="1.2"/>
<text transform="translate(124.00,244.22) scale(0.88,1)" font-size="9" text-anchor="end" fill="#2a2a2a" stroke="#2a2a2a" stroke-width="0.18">220</text>
<line x1="127.70" y1="230.01" x2="131.20" y2="230.01" stroke="#000" stroke-width="1.2"/>
<text transform="translate(124.00,233.11) scale(0.88,1)" font-size="9" text-anchor="end" fill="#2a2a2a" stroke="#2a2a2a" stroke-width="0.18">240</text>
<line x1="131.20" y1="226.20" x2="131.20" y2="372.60" stroke="#000" stroke-width="1.3"/>
<line x1="130.60" y1="372.00" x2="511.50" y2="372.00" stroke="#000" stroke-width="1.3"/>
<line x1="143.50" y1="372.00" x2="143.50" y2="375.60" stroke="#000" stroke-width="1.2"/>
<line x1="158.33" y1="372.00" x2="158.33" y2="375.60" stroke="#000" stroke-width="1.2"/>
<line x1="173.16" y1="372.00" x2="173.16" y2="375.60" stroke="#000" stroke-width="1.2"/>
<line x1="187.99" y1="372.00" x2="187.99" y2="375.60" stroke="#000" stroke-width="1.2"/>
<line x1="202.82" y1="372.00" x2="202.82" y2="375.60" stroke="#000" stroke-width="1.2"/>
<line x1="217.65" y1="372.00" x2="217.65" y2="375.60" stroke="#000" stroke-width="1.2"/>
<line x1="232.48" y1="372.00" x2="232.48" y2="375.60" stroke="#000" stroke-width="1.2"/>
<line x1="247.31" y1="372.00" x2="247.31" y2="375.60" stroke="#000" stroke-width="1.2"/>
<line x1="262.14" y1="372.00" x2="262.14" y2="375.60" stroke="#000" stroke-width="1.2"/>
<line x1="276.97" y1="372.00" x2="276.97" y2="375.60" stroke="#000" stroke-width="1.2"/>
<line x1="291.80" y1="372.00" x2="291.80" y2="375.60" stroke="#000" stroke-width="1.2"/>
<line x1="306.63" y1="372.00" x2="306.63" y2="375.60" stroke="#000" stroke-width="1.2"/>
<line x1="321.46" y1="372.00" x2="321.46" y2="375.60" stroke="#000" stroke-width="1.2"/>
<line x1="336.29" y1="372.00" x2="336.29" y2="375.60" stroke="#000" stroke-width="1.2"/>
<line x1="351.12" y1="372.00" x2="351.12" y2="375.60" stroke="#000" stroke-width="1.2"/>
<line x1="365.95" y1="372.00" x2="365.95" y2="375.60" stroke="#000" stroke-width="1.2"/>
<line x1="380.78" y1="372.00" x2="380.78" y2="375.60" stroke="#000" stroke-width="1.2"/>
<line x1="395.61" y1="372.00" x2="395.61" y2="375.60" stroke="#000" stroke-width="1.2"/>
<line x1="410.44" y1="372.00" x2="410.44" y2="375.60" stroke="#000" stroke-width="1.2"/>
<line x1="425.27" y1="372.00" x2="425.27" y2="375.60" stroke="#000" stroke-width="1.2"/>
<line x1="440.10" y1="372.00" x2="440.10" y2="375.60" stroke="#000" stroke-width="1.2"/>
<line x1="454.93" y1="372.00" x2="454.93" y2="375.60" stroke="#000" stroke-width="1.2"/>
<line x1="469.76" y1="372.00" x2="469.76" y2="375.60" stroke="#000" stroke-width="1.2"/>
<line x1="484.59" y1="372.00" x2="484.59" y2="375.60" stroke="#000" stroke-width="1.2"/>
<line x1="499.42" y1="372.00" x2="499.42" y2="375.60" stroke="#000" stroke-width="1.2"/>
<text x="135.00" y="386.90" font-size="9" text-anchor="middle" fill="#2b2b2b" stroke="#2b2b2b" stroke-width="0.18" textLength="29.6" lengthAdjust="spacingAndGlyphs">Baseline</text>
<text x="158.33" y="386.90" font-size="9" text-anchor="middle" fill="#2b2b2b" stroke="#2b2b2b" stroke-width="0.18">2</text>
<text x="173.16" y="386.90" font-size="9" text-anchor="middle" fill="#2b2b2b" stroke="#2b2b2b" stroke-width="0.18">3</text>
<text x="187.99" y="386.90" font-size="9" text-anchor="middle" fill="#2b2b2b" stroke="#2b2b2b" stroke-width="0.18">4</text>
<text x="202.82" y="386.90" font-size="9" text-anchor="middle" fill="#2b2b2b" stroke="#2b2b2b" stroke-width="0.18">5</text>
<text x="217.65" y="386.90" font-size="9" text-anchor="middle" fill="#2b2b2b" stroke="#2b2b2b" stroke-width="0.18">6</text>
<text x="232.48" y="386.90" font-size="9" text-anchor="middle" fill="#2b2b2b" stroke="#2b2b2b" stroke-width="0.18">7</text>
<text x="247.31" y="386.90" font-size="9" text-anchor="middle" fill="#2b2b2b" stroke="#2b2b2b" stroke-width="0.18">8</text>
<text x="262.14" y="386.90" font-size="9" text-anchor="middle" fill="#2b2b2b" stroke="#2b2b2b" stroke-width="0.18">9</text>
<text x="276.97" y="386.90" font-size="9" text-anchor="middle" fill="#2b2b2b" stroke="#2b2b2b" stroke-width="0.18">10</text>
<text x="291.80" y="386.90" font-size="9" text-anchor="middle" fill="#2b2b2b" stroke="#2b2b2b" stroke-width="0.18">11</text>
<text x="306.63" y="386.90" font-size="9" text-anchor="middle" fill="#2b2b2b" stroke="#2b2b2b" stroke-width="0.18">12</text>
<text x="321.46" y="386.90" font-size="9" text-anchor="middle" fill="#2b2b2b" stroke="#2b2b2b" stroke-width="0.18">13</text>
<text x="336.29" y="386.90" font-size="9" text-anchor="middle" fill="#2b2b2b" stroke="#2b2b2b" stroke-width="0.18">14</text>
<text x="351.12" y="386.90" font-size="9" text-anchor="middle" fill="#2b2b2b" stroke="#2b2b2b" stroke-width="0.18">15</text>
<text x="365.95" y="386.90" font-size="9" text-anchor="middle" fill="#2b2b2b" stroke="#2b2b2b" stroke-width="0.18">16</text>
<text x="380.78" y="386.90" font-size="9" text-anchor="middle" fill="#2b2b2b" stroke="#2b2b2b" stroke-width="0.18">17</text>
<text x="395.61" y="386.90" font-size="9" text-anchor="middle" fill="#2b2b2b" stroke="#2b2b2b" stroke-width="0.18">18</text>
<text x="410.44" y="386.90" font-size="9" text-anchor="middle" fill="#2b2b2b" stroke="#2b2b2b" stroke-width="0.18">19</text>
<text x="425.27" y="386.90" font-size="9" text-anchor="middle" fill="#2b2b2b" stroke="#2b2b2b" stroke-width="0.18">20</text>
<text x="440.10" y="386.90" font-size="9" text-anchor="middle" fill="#2b2b2b" stroke="#2b2b2b" stroke-width="0.18">21</text>
<text x="454.93" y="386.90" font-size="9" text-anchor="middle" fill="#2b2b2b" stroke="#2b2b2b" stroke-width="0.18">22</text>
<text x="469.76" y="386.90" font-size="9" text-anchor="middle" fill="#2b2b2b" stroke="#2b2b2b" stroke-width="0.18">23</text>
<text x="484.59" y="386.90" font-size="9" text-anchor="middle" fill="#2b2b2b" stroke="#2b2b2b" stroke-width="0.18">24</text>
<text x="499.42" y="386.90" font-size="9" text-anchor="middle" fill="#2b2b2b" stroke="#2b2b2b" stroke-width="0.18">25</text>
<text x="321.50" y="401.60" font-size="10.6" text-anchor="middle" fill="#2b2b2b" stroke="#2b2b2b" stroke-width="0.18" textLength="47.5" lengthAdjust="spacingAndGlyphs">Study weeks</text>
<text transform="translate(91.2,298.2) rotate(-90)" font-size="10.6" text-anchor="middle" fill="#2b2b2b" stroke="#2b2b2b" stroke-width="0.15" textLength="116.7" lengthAdjust="spacingAndGlyphs">Median platelet count, ×10<tspan font-size="7.2" dy="-6.3">9</tspan><tspan dy="6.3">/L</tspan></text>
<text transform="translate(103.4,298.6) rotate(-90)" font-size="10.6" text-anchor="middle" fill="#2b2b2b" stroke="#2b2b2b" stroke-width="0.15" textLength="20.5" lengthAdjust="spacingAndGlyphs">(IQR)</text>
<line x1="143.50" y1="358.40" x2="143.50" y2="353.40" stroke="#c8334f" stroke-width="1.15"/>
<line x1="140.60" y1="353.40" x2="146.40" y2="353.40" stroke="#c8334f" stroke-width="1.3"/>
<line x1="140.60" y1="358.40" x2="146.40" y2="358.40" stroke="#c8334f" stroke-width="1.3"/>
<line x1="158.33" y1="360.01" x2="158.33" y2="346.73" stroke="#c8334f" stroke-width="1.15"/>
<line x1="155.43" y1="346.73" x2="161.23" y2="346.73" stroke="#c8334f" stroke-width="1.3"/>
<line x1="155.43" y1="360.01" x2="161.23" y2="360.01" stroke="#c8334f" stroke-width="1.3"/>
<line x1="173.16" y1="359.51" x2="173.16" y2="345.06" stroke="#c8334f" stroke-width="1.15"/>
<line x1="170.26" y1="345.06" x2="176.06" y2="345.06" stroke="#c8334f" stroke-width="1.3"/>
<line x1="170.26" y1="359.51" x2="176.06" y2="359.51" stroke="#c8334f" stroke-width="1.3"/>
<line x1="187.99" y1="358.40" x2="187.99" y2="345.06" stroke="#c8334f" stroke-width="1.15"/>
<line x1="185.09" y1="345.06" x2="190.89" y2="345.06" stroke="#c8334f" stroke-width="1.3"/>
<line x1="185.09" y1="358.40" x2="190.89" y2="358.40" stroke="#c8334f" stroke-width="1.3"/>
<line x1="202.82" y1="358.95" x2="202.82" y2="346.73" stroke="#c8334f" stroke-width="1.15"/>
<line x1="199.92" y1="346.73" x2="205.72" y2="346.73" stroke="#c8334f" stroke-width="1.3"/>
<line x1="199.92" y1="358.95" x2="205.72" y2="358.95" stroke="#c8334f" stroke-width="1.3"/>
<line x1="217.65" y1="360.01" x2="217.65" y2="347.84" stroke="#c8334f" stroke-width="1.15"/>
<line x1="214.75" y1="347.84" x2="220.55" y2="347.84" stroke="#c8334f" stroke-width="1.3"/>
<line x1="214.75" y1="360.01" x2="220.55" y2="360.01" stroke="#c8334f" stroke-width="1.3"/>
<line x1="232.48" y1="359.51" x2="232.48" y2="346.73" stroke="#c8334f" stroke-width="1.15"/>
<line x1="229.58" y1="346.73" x2="235.38" y2="346.73" stroke="#c8334f" stroke-width="1.3"/>
<line x1="229.58" y1="359.51" x2="235.38" y2="359.51" stroke="#c8334f" stroke-width="1.3"/>
<line x1="247.31" y1="361.23" x2="247.31" y2="346.73" stroke="#c8334f" stroke-width="1.15"/>
<line x1="244.41" y1="346.73" x2="250.21" y2="346.73" stroke="#c8334f" stroke-width="1.3"/>
<line x1="244.41" y1="361.23" x2="250.21" y2="361.23" stroke="#c8334f" stroke-width="1.3"/>
<line x1="262.14" y1="358.95" x2="262.14" y2="346.73" stroke="#c8334f" stroke-width="1.15"/>
<line x1="259.24" y1="346.73" x2="265.04" y2="346.73" stroke="#c8334f" stroke-width="1.3"/>
<line x1="259.24" y1="358.95" x2="265.04" y2="358.95" stroke="#c8334f" stroke-width="1.3"/>
<line x1="276.97" y1="357.84" x2="276.97" y2="338.00" stroke="#c8334f" stroke-width="1.15"/>
<line x1="274.07" y1="338.00" x2="279.87" y2="338.00" stroke="#c8334f" stroke-width="1.3"/>
<line x1="274.07" y1="357.84" x2="279.87" y2="357.84" stroke="#c8334f" stroke-width="1.3"/>
<line x1="291.80" y1="358.40" x2="291.80" y2="342.28" stroke="#c8334f" stroke-width="1.15"/>
<line x1="288.90" y1="342.28" x2="294.70" y2="342.28" stroke="#c8334f" stroke-width="1.3"/>
<line x1="288.90" y1="358.40" x2="294.70" y2="358.40" stroke="#c8334f" stroke-width="1.3"/>
<line x1="306.63" y1="358.95" x2="306.63" y2="349.50" stroke="#c8334f" stroke-width="1.15"/>
<line x1="303.73" y1="349.50" x2="309.53" y2="349.50" stroke="#c8334f" stroke-width="1.3"/>
<line x1="303.73" y1="358.95" x2="309.53" y2="358.95" stroke="#c8334f" stroke-width="1.3"/>
<line x1="321.46" y1="360.07" x2="321.46" y2="347.84" stroke="#c8334f" stroke-width="1.15"/>
<line x1="318.56" y1="347.84" x2="324.36" y2="347.84" stroke="#c8334f" stroke-width="1.3"/>
<line x1="318.56" y1="360.07" x2="324.36" y2="360.07" stroke="#c8334f" stroke-width="1.3"/>
<line x1="336.29" y1="354.23" x2="336.29" y2="342.28" stroke="#c8334f" stroke-width="1.15"/>
<line x1="333.39" y1="342.28" x2="339.19" y2="342.28" stroke="#c8334f" stroke-width="1.3"/>
<line x1="333.39" y1="354.23" x2="339.19" y2="354.23" stroke="#c8334f" stroke-width="1.3"/>
<line x1="351.12" y1="352.28" x2="351.12" y2="338.39" stroke="#c8334f" stroke-width="1.15"/>
<line x1="348.22" y1="338.39" x2="354.02" y2="338.39" stroke="#c8334f" stroke-width="1.3"/>
<line x1="348.22" y1="352.28" x2="354.02" y2="352.28" stroke="#c8334f" stroke-width="1.3"/>
<line x1="365.95" y1="353.40" x2="365.95" y2="341.17" stroke="#c8334f" stroke-width="1.15"/>
<line x1="363.05" y1="341.17" x2="368.85" y2="341.17" stroke="#c8334f" stroke-width="1.3"/>
<line x1="363.05" y1="353.40" x2="368.85" y2="353.40" stroke="#c8334f" stroke-width="1.3"/>
<line x1="380.78" y1="353.40" x2="380.78" y2="342.28" stroke="#c8334f" stroke-width="1.15"/>
<line x1="377.88" y1="342.28" x2="383.68" y2="342.28" stroke="#c8334f" stroke-width="1.3"/>
<line x1="377.88" y1="353.40" x2="383.68" y2="353.40" stroke="#c8334f" stroke-width="1.3"/>
<line x1="395.61" y1="351.17" x2="395.61" y2="341.17" stroke="#c8334f" stroke-width="1.15"/>
<line x1="392.71" y1="341.17" x2="398.51" y2="341.17" stroke="#c8334f" stroke-width="1.3"/>
<line x1="392.71" y1="351.17" x2="398.51" y2="351.17" stroke="#c8334f" stroke-width="1.3"/>
<line x1="410.44" y1="351.17" x2="410.44" y2="311.38" stroke="#c8334f" stroke-width="1.15"/>
<line x1="407.54" y1="311.38" x2="413.34" y2="311.38" stroke="#c8334f" stroke-width="1.3"/>
<line x1="407.54" y1="351.17" x2="413.34" y2="351.17" stroke="#c8334f" stroke-width="1.3"/>
<line x1="425.27" y1="355.01" x2="425.27" y2="340.06" stroke="#c8334f" stroke-width="1.15"/>
<line x1="422.37" y1="340.06" x2="428.17" y2="340.06" stroke="#c8334f" stroke-width="1.3"/>
<line x1="422.37" y1="355.01" x2="428.17" y2="355.01" stroke="#c8334f" stroke-width="1.3"/>
<line x1="440.10" y1="358.40" x2="440.10" y2="346.73" stroke="#c8334f" stroke-width="1.15"/>
<line x1="437.20" y1="346.73" x2="443.00" y2="346.73" stroke="#c8334f" stroke-width="1.3"/>
<line x1="437.20" y1="358.40" x2="443.00" y2="358.40" stroke="#c8334f" stroke-width="1.3"/>
<line x1="454.93" y1="352.28" x2="454.93" y2="336.78" stroke="#c8334f" stroke-width="1.15"/>
<line x1="452.03" y1="336.78" x2="457.83" y2="336.78" stroke="#c8334f" stroke-width="1.3"/>
<line x1="452.03" y1="352.28" x2="457.83" y2="352.28" stroke="#c8334f" stroke-width="1.3"/>
<line x1="469.76" y1="353.95" x2="469.76" y2="345.61" stroke="#c8334f" stroke-width="1.15"/>
<line x1="466.86" y1="345.61" x2="472.66" y2="345.61" stroke="#c8334f" stroke-width="1.3"/>
<line x1="466.86" y1="353.95" x2="472.66" y2="353.95" stroke="#c8334f" stroke-width="1.3"/>
<line x1="484.59" y1="350.06" x2="484.59" y2="342.28" stroke="#c8334f" stroke-width="1.15"/>
<line x1="481.69" y1="342.28" x2="487.49" y2="342.28" stroke="#c8334f" stroke-width="1.3"/>
<line x1="481.69" y1="350.06" x2="487.49" y2="350.06" stroke="#c8334f" stroke-width="1.3"/>
<line x1="499.42" y1="352.84" x2="499.42" y2="343.39" stroke="#c8334f" stroke-width="1.15"/>
<line x1="496.52" y1="343.39" x2="502.32" y2="343.39" stroke="#c8334f" stroke-width="1.3"/>
<line x1="496.52" y1="352.84" x2="502.32" y2="352.84" stroke="#c8334f" stroke-width="1.3"/>
<line x1="143.50" y1="358.95" x2="143.50" y2="352.56" stroke="#47a64d" stroke-width="1.15"/>
<line x1="140.60" y1="352.56" x2="146.40" y2="352.56" stroke="#47a64d" stroke-width="1.3"/>
<line x1="140.60" y1="358.95" x2="146.40" y2="358.95" stroke="#47a64d" stroke-width="1.3"/>
<line x1="158.33" y1="358.40" x2="158.33" y2="335.39" stroke="#47a64d" stroke-width="1.15"/>
<line x1="155.43" y1="335.39" x2="161.23" y2="335.39" stroke="#47a64d" stroke-width="1.3"/>
<line x1="155.43" y1="358.40" x2="161.23" y2="358.40" stroke="#47a64d" stroke-width="1.3"/>
<line x1="173.16" y1="358.40" x2="173.16" y2="340.00" stroke="#47a64d" stroke-width="1.15"/>
<line x1="170.26" y1="340.00" x2="176.06" y2="340.00" stroke="#47a64d" stroke-width="1.3"/>
<line x1="170.26" y1="358.40" x2="176.06" y2="358.40" stroke="#47a64d" stroke-width="1.3"/>
<line x1="187.99" y1="358.95" x2="187.99" y2="341.17" stroke="#47a64d" stroke-width="1.15"/>
<line x1="185.09" y1="341.17" x2="190.89" y2="341.17" stroke="#47a64d" stroke-width="1.3"/>
<line x1="185.09" y1="358.95" x2="190.89" y2="358.95" stroke="#47a64d" stroke-width="1.3"/>
<line x1="202.82" y1="358.40" x2="202.82" y2="341.17" stroke="#47a64d" stroke-width="1.15"/>
<line x1="199.92" y1="341.17" x2="205.72" y2="341.17" stroke="#47a64d" stroke-width="1.3"/>
<line x1="199.92" y1="358.40" x2="205.72" y2="358.40" stroke="#47a64d" stroke-width="1.3"/>
<line x1="217.65" y1="358.40" x2="217.65" y2="338.72" stroke="#47a64d" stroke-width="1.15"/>
<line x1="214.75" y1="338.72" x2="220.55" y2="338.72" stroke="#47a64d" stroke-width="1.3"/>
<line x1="214.75" y1="358.40" x2="220.55" y2="358.40" stroke="#47a64d" stroke-width="1.3"/>
<line x1="232.48" y1="358.40" x2="232.48" y2="336.22" stroke="#47a64d" stroke-width="1.15"/>
<line x1="229.58" y1="336.22" x2="235.38" y2="336.22" stroke="#47a64d" stroke-width="1.3"/>
<line x1="229.58" y1="358.40" x2="235.38" y2="358.40" stroke="#47a64d" stroke-width="1.3"/>
<line x1="247.31" y1="358.40" x2="247.31" y2="339.50" stroke="#47a64d" stroke-width="1.15"/>
<line x1="244.41" y1="339.50" x2="250.21" y2="339.50" stroke="#47a64d" stroke-width="1.3"/>
<line x1="244.41" y1="358.40" x2="250.21" y2="358.40" stroke="#47a64d" stroke-width="1.3"/>
<line x1="262.14" y1="359.23" x2="262.14" y2="342.50" stroke="#47a64d" stroke-width="1.15"/>
<line x1="259.24" y1="342.50" x2="265.04" y2="342.50" stroke="#47a64d" stroke-width="1.3"/>
<line x1="259.24" y1="359.23" x2="265.04" y2="359.23" stroke="#47a64d" stroke-width="1.3"/>
<line x1="276.97" y1="358.95" x2="276.97" y2="342.84" stroke="#47a64d" stroke-width="1.15"/>
<line x1="274.07" y1="342.84" x2="279.87" y2="342.84" stroke="#47a64d" stroke-width="1.3"/>
<line x1="274.07" y1="358.95" x2="279.87" y2="358.95" stroke="#47a64d" stroke-width="1.3"/>
<line x1="291.80" y1="358.95" x2="291.80" y2="340.72" stroke="#47a64d" stroke-width="1.15"/>
<line x1="288.90" y1="340.72" x2="294.70" y2="340.72" stroke="#47a64d" stroke-width="1.3"/>
<line x1="288.90" y1="358.95" x2="294.70" y2="358.95" stroke="#47a64d" stroke-width="1.3"/>
<line x1="306.63" y1="358.73" x2="306.63" y2="337.00" stroke="#47a64d" stroke-width="1.15"/>
<line x1="303.73" y1="337.00" x2="309.53" y2="337.00" stroke="#47a64d" stroke-width="1.3"/>
<line x1="303.73" y1="358.73" x2="309.53" y2="358.73" stroke="#47a64d" stroke-width="1.3"/>
<line x1="321.46" y1="359.51" x2="321.46" y2="343.39" stroke="#47a64d" stroke-width="1.15"/>
<line x1="318.56" y1="343.39" x2="324.36" y2="343.39" stroke="#47a64d" stroke-width="1.3"/>
<line x1="318.56" y1="359.51" x2="324.36" y2="359.51" stroke="#47a64d" stroke-width="1.3"/>
<line x1="336.29" y1="352.28" x2="336.29" y2="337.50" stroke="#47a64d" stroke-width="1.15"/>
<line x1="333.39" y1="337.50" x2="339.19" y2="337.50" stroke="#47a64d" stroke-width="1.3"/>
<line x1="333.39" y1="352.28" x2="339.19" y2="352.28" stroke="#47a64d" stroke-width="1.3"/>
<line x1="351.12" y1="350.06" x2="351.12" y2="336.72" stroke="#47a64d" stroke-width="1.15"/>
<line x1="348.22" y1="336.72" x2="354.02" y2="336.72" stroke="#47a64d" stroke-width="1.3"/>
<line x1="348.22" y1="350.06" x2="354.02" y2="350.06" stroke="#47a64d" stroke-width="1.3"/>
<line x1="365.95" y1="349.50" x2="365.95" y2="332.00" stroke="#47a64d" stroke-width="1.15"/>
<line x1="363.05" y1="332.00" x2="368.85" y2="332.00" stroke="#47a64d" stroke-width="1.3"/>
<line x1="363.05" y1="349.50" x2="368.85" y2="349.50" stroke="#47a64d" stroke-width="1.3"/>
<line x1="380.78" y1="353.95" x2="380.78" y2="338.28" stroke="#47a64d" stroke-width="1.15"/>
<line x1="377.88" y1="338.28" x2="383.68" y2="338.28" stroke="#47a64d" stroke-width="1.3"/>
<line x1="377.88" y1="353.95" x2="383.68" y2="353.95" stroke="#47a64d" stroke-width="1.3"/>
<line x1="395.61" y1="351.17" x2="395.61" y2="337.83" stroke="#47a64d" stroke-width="1.15"/>
<line x1="392.71" y1="337.83" x2="398.51" y2="337.83" stroke="#47a64d" stroke-width="1.3"/>
<line x1="392.71" y1="351.17" x2="398.51" y2="351.17" stroke="#47a64d" stroke-width="1.3"/>
<line x1="410.44" y1="351.73" x2="410.44" y2="337.28" stroke="#47a64d" stroke-width="1.15"/>
<line x1="407.54" y1="337.28" x2="413.34" y2="337.28" stroke="#47a64d" stroke-width="1.3"/>
<line x1="407.54" y1="351.73" x2="413.34" y2="351.73" stroke="#47a64d" stroke-width="1.3"/>
<line x1="425.27" y1="353.95" x2="425.27" y2="337.83" stroke="#47a64d" stroke-width="1.15"/>
<line x1="422.37" y1="337.83" x2="428.17" y2="337.83" stroke="#47a64d" stroke-width="1.3"/>
<line x1="422.37" y1="353.95" x2="428.17" y2="353.95" stroke="#47a64d" stroke-width="1.3"/>
<line x1="440.10" y1="351.17" x2="440.10" y2="334.00" stroke="#47a64d" stroke-width="1.15"/>
<line x1="437.20" y1="334.00" x2="443.00" y2="334.00" stroke="#47a64d" stroke-width="1.3"/>
<line x1="437.20" y1="351.17" x2="443.00" y2="351.17" stroke="#47a64d" stroke-width="1.3"/>
<line x1="454.93" y1="352.28" x2="454.93" y2="338.28" stroke="#47a64d" stroke-width="1.15"/>
<line x1="452.03" y1="338.28" x2="457.83" y2="338.28" stroke="#47a64d" stroke-width="1.3"/>
<line x1="452.03" y1="352.28" x2="457.83" y2="352.28" stroke="#47a64d" stroke-width="1.3"/>
<line x1="469.76" y1="348.95" x2="469.76" y2="337.83" stroke="#47a64d" stroke-width="1.15"/>
<line x1="466.86" y1="337.83" x2="472.66" y2="337.83" stroke="#47a64d" stroke-width="1.3"/>
<line x1="466.86" y1="348.95" x2="472.66" y2="348.95" stroke="#47a64d" stroke-width="1.3"/>
<line x1="484.59" y1="353.28" x2="484.59" y2="338.28" stroke="#47a64d" stroke-width="1.15"/>
<line x1="481.69" y1="338.28" x2="487.49" y2="338.28" stroke="#47a64d" stroke-width="1.3"/>
<line x1="481.69" y1="353.28" x2="487.49" y2="353.28" stroke="#47a64d" stroke-width="1.3"/>
<line x1="499.42" y1="355.62" x2="499.42" y2="336.78" stroke="#47a64d" stroke-width="1.15"/>
<line x1="496.52" y1="336.78" x2="502.32" y2="336.78" stroke="#47a64d" stroke-width="1.3"/>
<line x1="496.52" y1="355.62" x2="502.32" y2="355.62" stroke="#47a64d" stroke-width="1.3"/>
<line x1="143.50" y1="352.84" x2="143.50" y2="351.73" stroke="#2b5282" stroke-width="1.15"/>
<line x1="140.60" y1="351.73" x2="146.40" y2="351.73" stroke="#2b5282" stroke-width="1.3"/>
<line x1="140.60" y1="352.84" x2="146.40" y2="352.84" stroke="#2b5282" stroke-width="1.3"/>
<line x1="158.33" y1="349.50" x2="158.33" y2="324.61" stroke="#2b5282" stroke-width="1.15"/>
<line x1="155.43" y1="324.61" x2="161.23" y2="324.61" stroke="#2b5282" stroke-width="1.3"/>
<line x1="155.43" y1="349.50" x2="161.23" y2="349.50" stroke="#2b5282" stroke-width="1.3"/>
<line x1="173.16" y1="342.28" x2="173.16" y2="317.38" stroke="#2b5282" stroke-width="1.15"/>
<line x1="170.26" y1="317.38" x2="176.06" y2="317.38" stroke="#2b5282" stroke-width="1.3"/>
<line x1="170.26" y1="342.28" x2="176.06" y2="342.28" stroke="#2b5282" stroke-width="1.3"/>
<line x1="187.99" y1="342.84" x2="187.99" y2="298.76" stroke="#2b5282" stroke-width="1.15"/>
<line x1="185.09" y1="298.76" x2="190.89" y2="298.76" stroke="#2b5282" stroke-width="1.3"/>
<line x1="185.09" y1="342.84" x2="190.89" y2="342.84" stroke="#2b5282" stroke-width="1.3"/>
<line x1="202.82" y1="343.95" x2="202.82" y2="307.49" stroke="#2b5282" stroke-width="1.15"/>
<line x1="199.92" y1="307.49" x2="205.72" y2="307.49" stroke="#2b5282" stroke-width="1.3"/>
<line x1="199.92" y1="343.95" x2="205.72" y2="343.95" stroke="#2b5282" stroke-width="1.3"/>
<line x1="217.65" y1="341.17" x2="217.65" y2="290.48" stroke="#2b5282" stroke-width="1.15"/>
<line x1="214.75" y1="290.48" x2="220.55" y2="290.48" stroke="#2b5282" stroke-width="1.3"/>
<line x1="214.75" y1="341.17" x2="220.55" y2="341.17" stroke="#2b5282" stroke-width="1.3"/>
<line x1="232.48" y1="336.72" x2="232.48" y2="288.76" stroke="#2b5282" stroke-width="1.15"/>
<line x1="229.58" y1="288.76" x2="235.38" y2="288.76" stroke="#2b5282" stroke-width="1.3"/>
<line x1="229.58" y1="336.72" x2="235.38" y2="336.72" stroke="#2b5282" stroke-width="1.3"/>
<line x1="247.31" y1="336.22" x2="247.31" y2="288.26" stroke="#2b5282" stroke-width="1.15"/>
<line x1="244.41" y1="288.26" x2="250.21" y2="288.26" stroke="#2b5282" stroke-width="1.3"/>
<line x1="244.41" y1="336.22" x2="250.21" y2="336.22" stroke="#2b5282" stroke-width="1.3"/>
<line x1="262.14" y1="338.00" x2="262.14" y2="278.75" stroke="#2b5282" stroke-width="1.15"/>
<line x1="259.24" y1="278.75" x2="265.04" y2="278.75" stroke="#2b5282" stroke-width="1.3"/>
<line x1="259.24" y1="338.00" x2="265.04" y2="338.00" stroke="#2b5282" stroke-width="1.3"/>
<line x1="276.97" y1="332.50" x2="276.97" y2="268.25" stroke="#2b5282" stroke-width="1.15"/>
<line x1="274.07" y1="268.25" x2="279.87" y2="268.25" stroke="#2b5282" stroke-width="1.3"/>
<line x1="274.07" y1="332.50" x2="279.87" y2="332.50" stroke="#2b5282" stroke-width="1.3"/>
<line x1="291.80" y1="330.50" x2="291.80" y2="268.25" stroke="#2b5282" stroke-width="1.15"/>
<line x1="288.90" y1="268.25" x2="294.70" y2="268.25" stroke="#2b5282" stroke-width="1.3"/>
<line x1="288.90" y1="330.50" x2="294.70" y2="330.50" stroke="#2b5282" stroke-width="1.3"/>
<line x1="306.63" y1="330.00" x2="306.63" y2="280.47" stroke="#2b5282" stroke-width="1.15"/>
<line x1="303.73" y1="280.47" x2="309.53" y2="280.47" stroke="#2b5282" stroke-width="1.3"/>
<line x1="303.73" y1="330.00" x2="309.53" y2="330.00" stroke="#2b5282" stroke-width="1.3"/>
<line x1="321.46" y1="327.00" x2="321.46" y2="263.02" stroke="#2b5282" stroke-width="1.15"/>
<line x1="318.56" y1="263.02" x2="324.36" y2="263.02" stroke="#2b5282" stroke-width="1.3"/>
<line x1="318.56" y1="327.00" x2="324.36" y2="327.00" stroke="#2b5282" stroke-width="1.3"/>
<line x1="336.29" y1="324.49" x2="336.29" y2="249.24" stroke="#2b5282" stroke-width="1.15"/>
<line x1="333.39" y1="249.24" x2="339.19" y2="249.24" stroke="#2b5282" stroke-width="1.3"/>
<line x1="333.39" y1="324.49" x2="339.19" y2="324.49" stroke="#2b5282" stroke-width="1.3"/>
<line x1="351.12" y1="327.00" x2="351.12" y2="255.52" stroke="#2b5282" stroke-width="1.15"/>
<line x1="348.22" y1="255.52" x2="354.02" y2="255.52" stroke="#2b5282" stroke-width="1.3"/>
<line x1="348.22" y1="327.00" x2="354.02" y2="327.00" stroke="#2b5282" stroke-width="1.3"/>
<line x1="365.95" y1="327.00" x2="365.95" y2="249.24" stroke="#2b5282" stroke-width="1.15"/>
<line x1="363.05" y1="249.24" x2="368.85" y2="249.24" stroke="#2b5282" stroke-width="1.3"/>
<line x1="363.05" y1="327.00" x2="368.85" y2="327.00" stroke="#2b5282" stroke-width="1.3"/>
<line x1="380.78" y1="328.22" x2="380.78" y2="262.69" stroke="#2b5282" stroke-width="1.15"/>
<line x1="377.88" y1="262.69" x2="383.68" y2="262.69" stroke="#2b5282" stroke-width="1.3"/>
<line x1="377.88" y1="328.22" x2="383.68" y2="328.22" stroke="#2b5282" stroke-width="1.3"/>
<line x1="395.61" y1="327.27" x2="395.61" y2="259.52" stroke="#2b5282" stroke-width="1.15"/>
<line x1="392.71" y1="259.52" x2="398.51" y2="259.52" stroke="#2b5282" stroke-width="1.3"/>
<line x1="392.71" y1="327.27" x2="398.51" y2="327.27" stroke="#2b5282" stroke-width="1.3"/>
<line x1="410.44" y1="324.83" x2="410.44" y2="253.52" stroke="#2b5282" stroke-width="1.15"/>
<line x1="407.54" y1="253.52" x2="413.34" y2="253.52" stroke="#2b5282" stroke-width="1.3"/>
<line x1="407.54" y1="324.83" x2="413.34" y2="324.83" stroke="#2b5282" stroke-width="1.3"/>
<line x1="425.27" y1="319.49" x2="425.27" y2="261.80" stroke="#2b5282" stroke-width="1.15"/>
<line x1="422.37" y1="261.80" x2="428.17" y2="261.80" stroke="#2b5282" stroke-width="1.3"/>
<line x1="422.37" y1="319.49" x2="428.17" y2="319.49" stroke="#2b5282" stroke-width="1.3"/>
<line x1="440.10" y1="323.83" x2="440.10" y2="242.24" stroke="#2b5282" stroke-width="1.15"/>
<line x1="437.20" y1="242.24" x2="443.00" y2="242.24" stroke="#2b5282" stroke-width="1.3"/>
<line x1="437.20" y1="323.83" x2="443.00" y2="323.83" stroke="#2b5282" stroke-width="1.3"/>
<line x1="454.93" y1="323.83" x2="454.93" y2="245.40" stroke="#2b5282" stroke-width="1.15"/>
<line x1="452.03" y1="245.40" x2="457.83" y2="245.40" stroke="#2b5282" stroke-width="1.3"/>
<line x1="452.03" y1="323.83" x2="457.83" y2="323.83" stroke="#2b5282" stroke-width="1.3"/>
<line x1="469.76" y1="316.60" x2="469.76" y2="247.40" stroke="#2b5282" stroke-width="1.15"/>
<line x1="466.86" y1="247.40" x2="472.66" y2="247.40" stroke="#2b5282" stroke-width="1.3"/>
<line x1="466.86" y1="316.60" x2="472.66" y2="316.60" stroke="#2b5282" stroke-width="1.3"/>
<line x1="484.59" y1="317.99" x2="484.59" y2="254.57" stroke="#2b5282" stroke-width="1.15"/>
<line x1="481.69" y1="254.57" x2="487.49" y2="254.57" stroke="#2b5282" stroke-width="1.3"/>
<line x1="481.69" y1="317.99" x2="487.49" y2="317.99" stroke="#2b5282" stroke-width="1.3"/>
<line x1="499.42" y1="321.49" x2="499.42" y2="235.01" stroke="#2b5282" stroke-width="1.15"/>
<line x1="496.52" y1="235.01" x2="502.32" y2="235.01" stroke="#2b5282" stroke-width="1.3"/>
<line x1="496.52" y1="321.49" x2="502.32" y2="321.49" stroke="#2b5282" stroke-width="1.3"/>
<polyline points="143.50,355.62 158.33,353.01 173.16,355.73 187.99,352.51 202.82,353.78 217.65,354.45 232.48,354.51 247.31,353.01 262.14,352.51 276.97,348.73 291.80,350.01 306.63,355.51 321.46,351.17 336.29,346.23 351.12,345.00 365.95,347.00 380.78,348.39 395.61,345.50 410.44,344.00 425.27,344.00 440.10,352.12 454.93,348.39 469.76,349.78 484.59,345.50 499.42,347.50" fill="none" stroke="#c8102e" stroke-width="1.3"/>
<circle cx="143.50" cy="355.62" r="2.6" fill="#c8102e"/>
<circle cx="158.33" cy="353.01" r="2.6" fill="#c8102e"/>
<circle cx="173.16" cy="355.73" r="2.6" fill="#c8102e"/>
<circle cx="187.99" cy="352.51" r="2.6" fill="#c8102e"/>
<circle cx="202.82" cy="353.78" r="2.6" fill="#c8102e"/>
<circle cx="217.65" cy="354.45" r="2.6" fill="#c8102e"/>
<circle cx="232.48" cy="354.51" r="2.6" fill="#c8102e"/>
<circle cx="247.31" cy="353.01" r="2.6" fill="#c8102e"/>
<circle cx="262.14" cy="352.51" r="2.6" fill="#c8102e"/>
<circle cx="276.97" cy="348.73" r="2.6" fill="#c8102e"/>
<circle cx="291.80" cy="350.01" r="2.6" fill="#c8102e"/>
<circle cx="306.63" cy="355.51" r="2.6" fill="#c8102e"/>
<circle cx="321.46" cy="351.17" r="2.6" fill="#c8102e"/>
<circle cx="336.29" cy="346.23" r="2.6" fill="#c8102e"/>
<circle cx="351.12" cy="345.00" r="2.6" fill="#c8102e"/>
<circle cx="365.95" cy="347.00" r="2.6" fill="#c8102e"/>
<circle cx="380.78" cy="348.39" r="2.6" fill="#c8102e"/>
<circle cx="395.61" cy="345.50" r="2.6" fill="#c8102e"/>
<circle cx="410.44" cy="344.00" r="2.6" fill="#c8102e"/>
<circle cx="425.27" cy="344.00" r="2.6" fill="#c8102e"/>
<circle cx="440.10" cy="352.12" r="2.6" fill="#c8102e"/>
<circle cx="454.93" cy="348.39" r="2.6" fill="#c8102e"/>
<circle cx="469.76" cy="349.78" r="2.6" fill="#c8102e"/>
<circle cx="484.59" cy="345.50" r="2.6" fill="#c8102e"/>
<circle cx="499.42" cy="347.50" r="2.6" fill="#c8102e"/>
<polyline points="143.50,356.17 158.33,351.78 173.16,351.17 187.99,351.78 202.82,351.78 217.65,351.51 232.48,352.51 247.31,350.51 262.14,351.23 276.97,351.23 291.80,350.51 306.63,348.73 321.46,351.23 336.29,343.72 351.12,342.50 365.95,340.72 380.78,344.00 395.61,342.61 410.44,341.72 425.27,343.50 440.10,341.72 454.93,344.61 469.76,341.72 484.59,346.00 499.42,343.50" fill="none" stroke="#2f9e3f" stroke-width="1.3"/>
<circle cx="143.50" cy="356.17" r="2.6" fill="#2f9e3f"/>
<circle cx="158.33" cy="351.78" r="2.6" fill="#2f9e3f"/>
<circle cx="173.16" cy="351.17" r="2.6" fill="#2f9e3f"/>
<circle cx="187.99" cy="351.78" r="2.6" fill="#2f9e3f"/>
<circle cx="202.82" cy="351.78" r="2.6" fill="#2f9e3f"/>
<circle cx="217.65" cy="351.51" r="2.6" fill="#2f9e3f"/>
<circle cx="232.48" cy="352.51" r="2.6" fill="#2f9e3f"/>
<circle cx="247.31" cy="350.51" r="2.6" fill="#2f9e3f"/>
<circle cx="262.14" cy="351.23" r="2.6" fill="#2f9e3f"/>
<circle cx="276.97" cy="351.23" r="2.6" fill="#2f9e3f"/>
<circle cx="291.80" cy="350.51" r="2.6" fill="#2f9e3f"/>
<circle cx="306.63" cy="348.73" r="2.6" fill="#2f9e3f"/>
<circle cx="321.46" cy="351.23" r="2.6" fill="#2f9e3f"/>
<circle cx="336.29" cy="343.72" r="2.6" fill="#2f9e3f"/>
<circle cx="351.12" cy="342.50" r="2.6" fill="#2f9e3f"/>
<circle cx="365.95" cy="340.72" r="2.6" fill="#2f9e3f"/>
<circle cx="380.78" cy="344.00" r="2.6" fill="#2f9e3f"/>
<circle cx="395.61" cy="342.61" r="2.6" fill="#2f9e3f"/>
<circle cx="410.44" cy="341.72" r="2.6" fill="#2f9e3f"/>
<circle cx="425.27" cy="343.50" r="2.6" fill="#2f9e3f"/>
<circle cx="440.10" cy="341.72" r="2.6" fill="#2f9e3f"/>
<circle cx="454.93" cy="344.61" r="2.6" fill="#2f9e3f"/>
<circle cx="469.76" cy="341.72" r="2.6" fill="#2f9e3f"/>
<circle cx="484.59" cy="346.00" r="2.6" fill="#2f9e3f"/>
<circle cx="499.42" cy="343.50" r="2.6" fill="#2f9e3f"/>
<polyline points="143.50,352.28 158.33,345.06 173.16,334.22 187.99,330.27 202.82,332.00 217.65,327.50 232.48,316.99 247.31,324.99 262.14,317.99 276.97,308.76 291.80,311.27 306.63,310.77 321.46,312.99 336.29,303.98 351.12,292.48 365.95,303.98 380.78,302.82 395.61,307.10 410.44,296.98 425.27,300.82 440.10,299.32 454.93,302.82 469.76,299.32 484.59,300.82 499.42,295.04" fill="none" stroke="#1d4a7c" stroke-width="1.3"/>
<circle cx="143.50" cy="352.28" r="2.6" fill="#1d4a7c"/>
<circle cx="158.33" cy="345.06" r="2.6" fill="#1d4a7c"/>
<circle cx="173.16" cy="334.22" r="2.6" fill="#1d4a7c"/>
<circle cx="187.99" cy="330.27" r="2.6" fill="#1d4a7c"/>
<circle cx="202.82" cy="332.00" r="2.6" fill="#1d4a7c"/>
<circle cx="217.65" cy="327.50" r="2.6" fill="#1d4a7c"/>
<circle cx="232.48" cy="316.99" r="2.6" fill="#1d4a7c"/>
<circle cx="247.31" cy="324.99" r="2.6" fill="#1d4a7c"/>
<circle cx="262.14" cy="317.99" r="2.6" fill="#1d4a7c"/>
<circle cx="276.97" cy="308.76" r="2.6" fill="#1d4a7c"/>
<circle cx="291.80" cy="311.27" r="2.6" fill="#1d4a7c"/>
<circle cx="306.63" cy="310.77" r="2.6" fill="#1d4a7c"/>
<circle cx="321.46" cy="312.99" r="2.6" fill="#1d4a7c"/>
<circle cx="336.29" cy="303.98" r="2.6" fill="#1d4a7c"/>
<circle cx="351.12" cy="292.48" r="2.6" fill="#1d4a7c"/>
<circle cx="365.95" cy="303.98" r="2.6" fill="#1d4a7c"/>
<circle cx="380.78" cy="302.82" r="2.6" fill="#1d4a7c"/>
<circle cx="395.61" cy="307.10" r="2.6" fill="#1d4a7c"/>
<circle cx="410.44" cy="296.98" r="2.6" fill="#1d4a7c"/>
<circle cx="425.27" cy="300.82" r="2.6" fill="#1d4a7c"/>
<circle cx="440.10" cy="299.32" r="2.6" fill="#1d4a7c"/>
<circle cx="454.93" cy="302.82" r="2.6" fill="#1d4a7c"/>
<circle cx="469.76" cy="299.32" r="2.6" fill="#1d4a7c"/>
<circle cx="484.59" cy="300.82" r="2.6" fill="#1d4a7c"/>
<circle cx="499.42" cy="295.04" r="2.6" fill="#1d4a7c"/>
<text x="128.70" y="415.50" font-size="9" text-anchor="end" fill="#2b5385" stroke="#2b5385" stroke-width="0.18" textLength="101.2" lengthAdjust="spacingAndGlyphs">Rilzabrutinib Responder (N)</text>
<text x="128.70" y="428.80" font-size="9" text-anchor="end" fill="#4cae4c" stroke="#4cae4c" stroke-width="0.18" textLength="120" lengthAdjust="spacingAndGlyphs">Rilzabrutinib Non-Responder (N)</text>
<text x="128.70" y="442.00" font-size="9" text-anchor="end" fill="#c8334f" stroke="#c8334f" stroke-width="0.18" textLength="42.5" lengthAdjust="spacingAndGlyphs">Placebo (N)</text>
<text x="143.50" y="415.50" font-size="9" text-anchor="middle" fill="#2b2b2b" stroke="#2b2b2b" stroke-width="0.18">31</text>
<text x="158.33" y="415.50" font-size="9" text-anchor="middle" fill="#2b2b2b" stroke="#2b2b2b" stroke-width="0.18">31</text>
<text x="173.16" y="415.50" font-size="9" text-anchor="middle" fill="#2b2b2b" stroke="#2b2b2b" stroke-width="0.18">29</text>
<text x="187.99" y="415.50" font-size="9" text-anchor="middle" fill="#2b2b2b" stroke="#2b2b2b" stroke-width="0.18">30</text>
<text x="202.82" y="415.50" font-size="9" text-anchor="middle" fill="#2b2b2b" stroke="#2b2b2b" stroke-width="0.18">31</text>
<text x="217.65" y="415.50" font-size="9" text-anchor="middle" fill="#2b2b2b" stroke="#2b2b2b" stroke-width="0.18">30</text>
<text x="232.48" y="415.50" font-size="9" text-anchor="middle" fill="#2b2b2b" stroke="#2b2b2b" stroke-width="0.18">31</text>
<text x="247.31" y="415.50" font-size="9" text-anchor="middle" fill="#2b2b2b" stroke="#2b2b2b" stroke-width="0.18">31</text>
<text x="262.14" y="415.50" font-size="9" text-anchor="middle" fill="#2b2b2b" stroke="#2b2b2b" stroke-width="0.18">31</text>
<text x="276.97" y="415.50" font-size="9" text-anchor="middle" fill="#2b2b2b" stroke="#2b2b2b" stroke-width="0.18">29</text>
<text x="291.80" y="415.50" font-size="9" text-anchor="middle" fill="#2b2b2b" stroke="#2b2b2b" stroke-width="0.18">29</text>
<text x="306.63" y="415.50" font-size="9" text-anchor="middle" fill="#2b2b2b" stroke="#2b2b2b" stroke-width="0.18">31</text>
<text x="321.46" y="415.50" font-size="9" text-anchor="middle" fill="#2b2b2b" stroke="#2b2b2b" stroke-width="0.18">31</text>
<text x="336.29" y="415.50" font-size="9" text-anchor="middle" fill="#2b2b2b" stroke="#2b2b2b" stroke-width="0.18">30</text>
<text x="351.12" y="415.50" font-size="9" text-anchor="middle" fill="#2b2b2b" stroke="#2b2b2b" stroke-width="0.18">30</text>
<text x="365.95" y="415.50" font-size="9" text-anchor="middle" fill="#2b2b2b" stroke="#2b2b2b" stroke-width="0.18">31</text>
<text x="380.78" y="415.50" font-size="9" text-anchor="middle" fill="#2b2b2b" stroke="#2b2b2b" stroke-width="0.18">31</text>
<text x="395.61" y="415.50" font-size="9" text-anchor="middle" fill="#2b2b2b" stroke="#2b2b2b" stroke-width="0.18">28</text>
<text x="410.44" y="415.50" font-size="9" text-anchor="middle" fill="#2b2b2b" stroke="#2b2b2b" stroke-width="0.18">31</text>
<text x="425.27" y="415.50" font-size="9" text-anchor="middle" fill="#2b2b2b" stroke="#2b2b2b" stroke-width="0.18">28</text>
<text x="440.10" y="415.50" font-size="9" text-anchor="middle" fill="#2b2b2b" stroke="#2b2b2b" stroke-width="0.18">31</text>
<text x="454.93" y="415.50" font-size="9" text-anchor="middle" fill="#2b2b2b" stroke="#2b2b2b" stroke-width="0.18">31</text>
<text x="469.76" y="415.50" font-size="9" text-anchor="middle" fill="#2b2b2b" stroke="#2b2b2b" stroke-width="0.18">31</text>
<text x="484.59" y="415.50" font-size="9" text-anchor="middle" fill="#2b2b2b" stroke="#2b2b2b" stroke-width="0.18">31</text>
<text x="499.42" y="415.50" font-size="9" text-anchor="middle" fill="#2b2b2b" stroke="#2b2b2b" stroke-width="0.18">31</text>
<text x="143.50" y="428.80" font-size="9" text-anchor="middle" fill="#2b2b2b" stroke="#2b2b2b" stroke-width="0.18" textLength="13.5" lengthAdjust="spacingAndGlyphs">102</text>
<text x="158.33" y="428.80" font-size="9" text-anchor="middle" fill="#2b2b2b" stroke="#2b2b2b" stroke-width="0.18">98</text>
<text x="173.16" y="428.80" font-size="9" text-anchor="middle" fill="#2b2b2b" stroke="#2b2b2b" stroke-width="0.18" textLength="13.5" lengthAdjust="spacingAndGlyphs">100</text>
<text x="187.99" y="428.80" font-size="9" text-anchor="middle" fill="#2b2b2b" stroke="#2b2b2b" stroke-width="0.18">94</text>
<text x="202.82" y="428.80" font-size="9" text-anchor="middle" fill="#2b2b2b" stroke="#2b2b2b" stroke-width="0.18" textLength="13.5" lengthAdjust="spacingAndGlyphs">100</text>
<text x="217.65" y="428.80" font-size="9" text-anchor="middle" fill="#2b2b2b" stroke="#2b2b2b" stroke-width="0.18">88</text>
<text x="232.48" y="428.80" font-size="9" text-anchor="middle" fill="#2b2b2b" stroke="#2b2b2b" stroke-width="0.18">95</text>
<text x="247.31" y="428.80" font-size="9" text-anchor="middle" fill="#2b2b2b" stroke="#2b2b2b" stroke-width="0.18">90</text>
<text x="262.14" y="428.80" font-size="9" text-anchor="middle" fill="#2b2b2b" stroke="#2b2b2b" stroke-width="0.18">94</text>
<text x="276.97" y="428.80" font-size="9" text-anchor="middle" fill="#2b2b2b" stroke="#2b2b2b" stroke-width="0.18">87</text>
<text x="291.80" y="428.80" font-size="9" text-anchor="middle" fill="#2b2b2b" stroke="#2b2b2b" stroke-width="0.18">85</text>
<text x="306.63" y="428.80" font-size="9" text-anchor="middle" fill="#2b2b2b" stroke="#2b2b2b" stroke-width="0.18">82</text>
<text x="321.46" y="428.80" font-size="9" text-anchor="middle" fill="#2b2b2b" stroke="#2b2b2b" stroke-width="0.18">85</text>
<text x="336.29" y="428.80" font-size="9" text-anchor="middle" fill="#2b2b2b" stroke="#2b2b2b" stroke-width="0.18">34</text>
<text x="351.12" y="428.80" font-size="9" text-anchor="middle" fill="#2b2b2b" stroke="#2b2b2b" stroke-width="0.18">36</text>
<text x="365.95" y="428.80" font-size="9" text-anchor="middle" fill="#2b2b2b" stroke="#2b2b2b" stroke-width="0.18">32</text>
<text x="380.78" y="428.80" font-size="9" text-anchor="middle" fill="#2b2b2b" stroke="#2b2b2b" stroke-width="0.18">33</text>
<text x="395.61" y="428.80" font-size="9" text-anchor="middle" fill="#2b2b2b" stroke="#2b2b2b" stroke-width="0.18">32</text>
<text x="410.44" y="428.80" font-size="9" text-anchor="middle" fill="#2b2b2b" stroke="#2b2b2b" stroke-width="0.18">31</text>
<text x="425.27" y="428.80" font-size="9" text-anchor="middle" fill="#2b2b2b" stroke="#2b2b2b" stroke-width="0.18">32</text>
<text x="440.10" y="428.80" font-size="9" text-anchor="middle" fill="#2b2b2b" stroke="#2b2b2b" stroke-width="0.18">33</text>
<text x="454.93" y="428.80" font-size="9" text-anchor="middle" fill="#2b2b2b" stroke="#2b2b2b" stroke-width="0.18">31</text>
<text x="469.76" y="428.80" font-size="9" text-anchor="middle" fill="#2b2b2b" stroke="#2b2b2b" stroke-width="0.18">31</text>
<text x="484.59" y="428.80" font-size="9" text-anchor="middle" fill="#2b2b2b" stroke="#2b2b2b" stroke-width="0.18">29</text>
<text x="499.42" y="428.80" font-size="9" text-anchor="middle" fill="#2b2b2b" stroke="#2b2b2b" stroke-width="0.18">31</text>
<text x="143.50" y="442.00" font-size="9" text-anchor="middle" fill="#2b2b2b" stroke="#2b2b2b" stroke-width="0.18">69</text>
<text x="158.33" y="442.00" font-size="9" text-anchor="middle" fill="#2b2b2b" stroke="#2b2b2b" stroke-width="0.18">64</text>
<text x="173.16" y="442.00" font-size="9" text-anchor="middle" fill="#2b2b2b" stroke="#2b2b2b" stroke-width="0.18">66</text>
<text x="187.99" y="442.00" font-size="9" text-anchor="middle" fill="#2b2b2b" stroke="#2b2b2b" stroke-width="0.18">62</text>
<text x="202.82" y="442.00" font-size="9" text-anchor="middle" fill="#2b2b2b" stroke="#2b2b2b" stroke-width="0.18">67</text>
<text x="217.65" y="442.00" font-size="9" text-anchor="middle" fill="#2b2b2b" stroke="#2b2b2b" stroke-width="0.18">67</text>
<text x="232.48" y="442.00" font-size="9" text-anchor="middle" fill="#2b2b2b" stroke="#2b2b2b" stroke-width="0.18">66</text>
<text x="247.31" y="442.00" font-size="9" text-anchor="middle" fill="#2b2b2b" stroke="#2b2b2b" stroke-width="0.18">65</text>
<text x="262.14" y="442.00" font-size="9" text-anchor="middle" fill="#2b2b2b" stroke="#2b2b2b" stroke-width="0.18">66</text>
<text x="276.97" y="442.00" font-size="9" text-anchor="middle" fill="#2b2b2b" stroke="#2b2b2b" stroke-width="0.18">65</text>
<text x="291.80" y="442.00" font-size="9" text-anchor="middle" fill="#2b2b2b" stroke="#2b2b2b" stroke-width="0.18">65</text>
<text x="306.63" y="442.00" font-size="9" text-anchor="middle" fill="#2b2b2b" stroke="#2b2b2b" stroke-width="0.18">64</text>
<text x="321.46" y="442.00" font-size="9" text-anchor="middle" fill="#2b2b2b" stroke="#2b2b2b" stroke-width="0.18">63</text>
<text x="336.29" y="442.00" font-size="9" text-anchor="middle" fill="#2b2b2b" stroke="#2b2b2b" stroke-width="0.18">13</text>
<text x="351.12" y="442.00" font-size="9" text-anchor="middle" fill="#2b2b2b" stroke="#2b2b2b" stroke-width="0.18">10</text>
<text x="365.95" y="442.00" font-size="9" text-anchor="middle" fill="#2b2b2b" stroke="#2b2b2b" stroke-width="0.18">8</text>
<text x="380.78" y="442.00" font-size="9" text-anchor="middle" fill="#2b2b2b" stroke="#2b2b2b" stroke-width="0.18">10</text>
<text x="395.61" y="442.00" font-size="9" text-anchor="middle" fill="#2b2b2b" stroke="#2b2b2b" stroke-width="0.18">10</text>
<text x="410.44" y="442.00" font-size="9" text-anchor="middle" fill="#2b2b2b" stroke="#2b2b2b" stroke-width="0.18">10</text>
<text x="425.27" y="442.00" font-size="9" text-anchor="middle" fill="#2b2b2b" stroke="#2b2b2b" stroke-width="0.18">10</text>
<text x="440.10" y="442.00" font-size="9" text-anchor="middle" fill="#2b2b2b" stroke="#2b2b2b" stroke-width="0.18">10</text>
<text x="454.93" y="442.00" font-size="9" text-anchor="middle" fill="#2b2b2b" stroke="#2b2b2b" stroke-width="0.18">10</text>
<text x="469.76" y="442.00" font-size="9" text-anchor="middle" fill="#2b2b2b" stroke="#2b2b2b" stroke-width="0.18">10</text>
<text x="484.59" y="442.00" font-size="9" text-anchor="middle" fill="#2b2b2b" stroke="#2b2b2b" stroke-width="0.18">9</text>
<text x="499.42" y="442.00" font-size="9" text-anchor="middle" fill="#2b2b2b" stroke="#2b2b2b" stroke-width="0.18">10</text>
<text x="9.50" y="468.00" font-size="15" text-anchor="start" fill="#000" stroke="#000" stroke-width="0.18" font-weight="bold">C</text>
<rect x="32" y="493.63" width="472" height="9.73" fill="#dcdce0"/>
<rect x="32" y="532.55" width="472" height="19.46" fill="#dcdce0"/>
<rect x="32" y="571.48" width="472" height="29.19" fill="#dcdce0"/>
<rect x="32" y="620.12" width="472" height="19.46" fill="#dcdce0"/>
<rect x="32" y="659.04" width="472" height="19.46" fill="#dcdce0"/>
<rect x="32" y="697.97" width="472" height="19.46" fill="#dcdce0"/>
<rect x="32" y="756.35" width="472" height="19.46" fill="#dcdce0"/>
<text transform="translate(33.70,481.90) scale(0.92,1)" font-size="7.6" text-anchor="start" fill="#2b2b2b" stroke="#2b2b2b" stroke-width="0.18" font-weight="bold">Subgroup</text>
<text transform="translate(199.00,481.70) scale(0.875,1)" font-size="7.6" text-anchor="start" fill="#2b2b2b" stroke="#2b2b2b" stroke-width="0.18" font-weight="bold">Placebo</text>
<text transform="translate(241.30,481.70) scale(0.885,1)" font-size="7.6" text-anchor="start" fill="#2b2b2b" stroke="#2b2b2b" stroke-width="0.18" font-weight="bold">Rilzabrutinib</text>
<text transform="translate(298.00,481.70) scale(0.91,1)" font-size="7.6" text-anchor="start" fill="#2b2b2b" stroke="#2b2b2b" stroke-width="0.18" font-weight="bold">Difference (CI)</text>
<text transform="translate(198.60,490.80) scale(0.9,1)" font-size="7.6" text-anchor="start" fill="#2b2b2b" stroke="#2b2b2b" stroke-width="0.18" font-weight="bold">n/n</text>
<text transform="translate(219.10,490.80) scale(0.9,1)" font-size="7.6" text-anchor="start" fill="#2b2b2b" stroke="#2b2b2b" stroke-width="0.18" font-weight="bold">%</text>
<text transform="translate(241.30,490.80) scale(0.9,1)" font-size="7.6" text-anchor="start" fill="#2b2b2b" stroke="#2b2b2b" stroke-width="0.18" font-weight="bold">n/n</text>
<text transform="translate(267.20,490.80) scale(0.9,1)" font-size="7.6" text-anchor="start" fill="#2b2b2b" stroke="#2b2b2b" stroke-width="0.18" font-weight="bold">%</text>
<text transform="translate(298.00,490.80) scale(0.9,1)" font-size="7.6" text-anchor="start" fill="#2b2b2b" stroke="#2b2b2b" stroke-width="0.18" font-weight="bold">%</text>
<text transform="translate(33.70,501.20) scale(0.9,1)" font-size="7.6" text-anchor="start" fill="#2b2b2b" stroke="#2b2b2b" stroke-width="0.18" font-weight="bold">All patients</text>
<text transform="translate(198.60,501.20) scale(0.9,1)" font-size="7.6" text-anchor="start" fill="#2b2b2b" stroke="#2b2b2b" stroke-width="0.18">0/69</text>
<text transform="translate(219.10,501.20) scale(0.88,1)" font-size="7.6" text-anchor="start" fill="#2b2b2b" stroke="#2b2b2b" stroke-width="0.18">0%</text>
<text transform="translate(241.30,501.20) scale(0.9,1)" font-size="7.6" text-anchor="start" fill="#2b2b2b" stroke="#2b2b2b" stroke-width="0.18">31/133</text>
<text transform="translate(266.90,501.20) scale(0.88,1)" font-size="7.6" text-anchor="start" fill="#2b2b2b" stroke="#2b2b2b" stroke-width="0.18">23%</text>
<text transform="translate(298.00,501.20) scale(0.88,1)" font-size="7.6" text-anchor="start" fill="#2b2b2b" stroke="#2b2b2b" stroke-width="0.18">23% (16%, 30%)</text>
<text transform="translate(33.70,510.93) scale(0.9,1)" font-size="7.6" text-anchor="start" fill="#2b2b2b" stroke="#2b2b2b" stroke-width="0.18" font-weight="bold">Race</text>
<text transform="translate(132.00,510.93) scale(0.94,1)" font-size="7.6" text-anchor="start" fill="#3a3a3a" stroke="#3a3a3a" stroke-width="0.18">White</text>
<text transform="translate(198.60,510.93) scale(0.9,1)" font-size="7.6" text-anchor="start" fill="#2b2b2b" stroke="#2b2b2b" stroke-width="0.18">0/40</text>
<text transform="translate(219.10,510.93) scale(0.88,1)" font-size="7.6" text-anchor="start" fill="#2b2b2b" stroke="#2b2b2b" stroke-width="0.18">0%</text>
<text transform="translate(241.30,510.93) scale(0.9,1)" font-size="7.6" text-anchor="start" fill="#2b2b2b" stroke="#2b2b2b" stroke-width="0.18">17/85</text>
<text transform="translate(266.90,510.93) scale(0.88,1)" font-size="7.6" text-anchor="start" fill="#2b2b2b" stroke="#2b2b2b" stroke-width="0.18">20%</text>
<text transform="translate(298.00,510.93) scale(0.88,1)" font-size="7.6" text-anchor="start" fill="#2b2b2b" stroke="#2b2b2b" stroke-width="0.18">20% (12%, 29%)</text>
<text transform="translate(132.00,520.66) scale(0.94,1)" font-size="7.6" text-anchor="start" fill="#3a3a3a" stroke="#3a3a3a" stroke-width="0.18">Asian</text>
<text transform="translate(198.60,520.66) scale(0.9,1)" font-size="7.6" text-anchor="start" fill="#2b2b2b" stroke="#2b2b2b" stroke-width="0.18">0/24</text>
<text transform="translate(219.10,520.66) scale(0.88,1)" font-size="7.6" text-anchor="start" fill="#2b2b2b" stroke="#2b2b2b" stroke-width="0.18">0%</text>
<text transform="translate(241.30,520.66) scale(0.9,1)" font-size="7.6" text-anchor="start" fill="#2b2b2b" stroke="#2b2b2b" stroke-width="0.18">12/40</text>
<text transform="translate(266.90,520.66) scale(0.88,1)" font-size="7.6" text-anchor="start" fill="#2b2b2b" stroke="#2b2b2b" stroke-width="0.18">30%</text>
<text transform="translate(298.00,520.66) scale(0.88,1)" font-size="7.6" text-anchor="start" fill="#2b2b2b" stroke="#2b2b2b" stroke-width="0.18">30% (16%, 44%)</text>
<text transform="translate(132.00,530.39) scale(0.94,1)" font-size="7.6" text-anchor="start" fill="#3a3a3a" stroke="#3a3a3a" stroke-width="0.18">Other</text>
<text transform="translate(198.60,530.39) scale(0.9,1)" font-size="7.6" text-anchor="start" fill="#2b2b2b" stroke="#2b2b2b" stroke-width="0.18">0/5</text>
<text transform="translate(219.10,530.39) scale(0.88,1)" font-size="7.6" text-anchor="start" fill="#2b2b2b" stroke="#2b2b2b" stroke-width="0.18">0%</text>
<text transform="translate(241.30,530.39) scale(0.9,1)" font-size="7.6" text-anchor="start" fill="#2b2b2b" stroke="#2b2b2b" stroke-width="0.18">2/8</text>
<text transform="translate(266.90,530.39) scale(0.88,1)" font-size="7.6" text-anchor="start" fill="#2b2b2b" stroke="#2b2b2b" stroke-width="0.18">25%</text>
<text transform="translate(298.00,530.39) scale(0.88,1)" font-size="7.6" text-anchor="start" fill="#2b2b2b" stroke="#2b2b2b" stroke-width="0.18">25% (–5%, 55%)</text>
<text transform="translate(33.70,540.12) scale(0.9,1)" font-size="7.6" text-anchor="start" fill="#2b2b2b" stroke="#2b2b2b" stroke-width="0.18" font-weight="bold">Age group</text>
<text transform="translate(132.00,540.12) scale(0.94,1)" font-size="7.6" text-anchor="start" fill="#3a3a3a" stroke="#3a3a3a" stroke-width="0.18">&lt;65 y</text>
<text transform="translate(198.60,540.12) scale(0.9,1)" font-size="7.6" text-anchor="start" fill="#2b2b2b" stroke="#2b2b2b" stroke-width="0.18">0/54</text>
<text transform="translate(219.10,540.12) scale(0.88,1)" font-size="7.6" text-anchor="start" fill="#2b2b2b" stroke="#2b2b2b" stroke-width="0.18">0%</text>
<text transform="translate(241.30,540.12) scale(0.9,1)" font-size="7.6" text-anchor="start" fill="#2b2b2b" stroke="#2b2b2b" stroke-width="0.18">28/112</text>
<text transform="translate(266.90,540.12) scale(0.88,1)" font-size="7.6" text-anchor="start" fill="#2b2b2b" stroke="#2b2b2b" stroke-width="0.18">25%</text>
<text transform="translate(298.00,540.12) scale(0.88,1)" font-size="7.6" text-anchor="start" fill="#2b2b2b" stroke="#2b2b2b" stroke-width="0.18">25% (17%, 33%)</text>
<text transform="translate(132.00,549.85) scale(0.94,1)" font-size="7.6" text-anchor="start" fill="#3a3a3a" stroke="#3a3a3a" stroke-width="0.18">≥65 y</text>
<text transform="translate(198.60,549.85) scale(0.9,1)" font-size="7.6" text-anchor="start" fill="#2b2b2b" stroke="#2b2b2b" stroke-width="0.18">0/15</text>
<text transform="translate(219.10,549.85) scale(0.88,1)" font-size="7.6" text-anchor="start" fill="#2b2b2b" stroke="#2b2b2b" stroke-width="0.18">0%</text>
<text transform="translate(241.30,549.85) scale(0.9,1)" font-size="7.6" text-anchor="start" fill="#2b2b2b" stroke="#2b2b2b" stroke-width="0.18">3/21</text>
<text transform="translate(266.90,549.85) scale(0.88,1)" font-size="7.6" text-anchor="start" fill="#2b2b2b" stroke="#2b2b2b" stroke-width="0.18">14%</text>
<text transform="translate(298.00,549.85) scale(0.88,1)" font-size="7.6" text-anchor="start" fill="#2b2b2b" stroke="#2b2b2b" stroke-width="0.18">14% (–0.7%, 29%)</text>
<text transform="translate(33.70,559.58) scale(0.9,1)" font-size="7.6" text-anchor="start" fill="#2b2b2b" stroke="#2b2b2b" stroke-width="0.18" font-weight="bold">Sex</text>
<text transform="translate(132.00,559.58) scale(0.94,1)" font-size="7.6" text-anchor="start" fill="#3a3a3a" stroke="#3a3a3a" stroke-width="0.18">Male</text>
<text transform="translate(198.60,559.58) scale(0.9,1)" font-size="7.6" text-anchor="start" fill="#2b2b2b" stroke="#2b2b2b" stroke-width="0.18">0/20</text>
<text transform="translate(219.10,559.58) scale(0.88,1)" font-size="7.6" text-anchor="start" fill="#2b2b2b" stroke="#2b2b2b" stroke-width="0.18">0%</text>
<text transform="translate(241.30,559.58) scale(0.9,1)" font-size="7.6" text-anchor="start" fill="#2b2b2b" stroke="#2b2b2b" stroke-width="0.18">8/55</text>
<text transform="translate(266.90,559.58) scale(0.88,1)" font-size="7.6" text-anchor="start" fill="#2b2b2b" stroke="#2b2b2b" stroke-width="0.18">15%</text>
<text transform="translate(298.00,559.58) scale(0.88,1)" font-size="7.6" text-anchor="start" fill="#2b2b2b" stroke="#2b2b2b" stroke-width="0.18">15% (5%, 24%)</text>
<text transform="translate(132.00,569.31) scale(0.94,1)" font-size="7.6" text-anchor="start" fill="#3a3a3a" stroke="#3a3a3a" stroke-width="0.18">Female</text>
<text transform="translate(198.60,569.31) scale(0.9,1)" font-size="7.6" text-anchor="start" fill="#2b2b2b" stroke="#2b2b2b" stroke-width="0.18">0/49</text>
<text transform="translate(219.10,569.31) scale(0.88,1)" font-size="7.6" text-anchor="start" fill="#2b2b2b" stroke="#2b2b2b" stroke-width="0.18">0%</text>
<text transform="translate(241.30,569.31) scale(0.9,1)" font-size="7.6" text-anchor="start" fill="#2b2b2b" stroke="#2b2b2b" stroke-width="0.18">23/78</text>
<text transform="translate(266.90,569.31) scale(0.88,1)" font-size="7.6" text-anchor="start" fill="#2b2b2b" stroke="#2b2b2b" stroke-width="0.18">29%</text>
<text transform="translate(298.00,569.31) scale(0.88,1)" font-size="7.6" text-anchor="start" fill="#2b2b2b" stroke="#2b2b2b" stroke-width="0.18">29% (19%, 40%)</text>
<text transform="translate(33.70,579.04) scale(0.9,1)" font-size="7.6" text-anchor="start" fill="#2b2b2b" stroke="#2b2b2b" stroke-width="0.18" font-weight="bold">Duration of ITP</text>
<text transform="translate(132.00,579.04) scale(0.94,1)" font-size="7.6" text-anchor="start" fill="#3a3a3a" stroke="#3a3a3a" stroke-width="0.18">≤1 y</text>
<text transform="translate(198.60,579.04) scale(0.9,1)" font-size="7.6" text-anchor="start" fill="#2b2b2b" stroke="#2b2b2b" stroke-width="0.18">0/5</text>
<text transform="translate(219.10,579.04) scale(0.88,1)" font-size="7.6" text-anchor="start" fill="#2b2b2b" stroke="#2b2b2b" stroke-width="0.18">0%</text>
<text transform="translate(241.30,579.04) scale(0.9,1)" font-size="7.6" text-anchor="start" fill="#2b2b2b" stroke="#2b2b2b" stroke-width="0.18">3/10</text>
<text transform="translate(266.90,579.04) scale(0.88,1)" font-size="7.6" text-anchor="start" fill="#2b2b2b" stroke="#2b2b2b" stroke-width="0.18">20%</text>
<text transform="translate(298.00,579.04) scale(0.88,1)" font-size="7.6" text-anchor="start" fill="#2b2b2b" stroke="#2b2b2b" stroke-width="0.18">30% (2%, 58%)</text>
<text transform="translate(132.00,588.77) scale(0.94,1)" font-size="7.6" text-anchor="start" fill="#3a3a3a" stroke="#3a3a3a" stroke-width="0.18">&gt;1 to ≤3 y</text>
<text transform="translate(198.60,588.77) scale(0.9,1)" font-size="7.6" text-anchor="start" fill="#2b2b2b" stroke="#2b2b2b" stroke-width="0.18">0/14</text>
<text transform="translate(219.10,588.77) scale(0.88,1)" font-size="7.6" text-anchor="start" fill="#2b2b2b" stroke="#2b2b2b" stroke-width="0.18">0%</text>
<text transform="translate(241.30,588.77) scale(0.9,1)" font-size="7.6" text-anchor="start" fill="#2b2b2b" stroke="#2b2b2b" stroke-width="0.18">7/21</text>
<text transform="translate(266.90,588.77) scale(0.88,1)" font-size="7.6" text-anchor="start" fill="#2b2b2b" stroke="#2b2b2b" stroke-width="0.18">33%</text>
<text transform="translate(298.00,588.77) scale(0.88,1)" font-size="7.6" text-anchor="start" fill="#2b2b2b" stroke="#2b2b2b" stroke-width="0.18">33% (13%, 54%)</text>
<text transform="translate(132.00,598.50) scale(0.94,1)" font-size="7.6" text-anchor="start" fill="#3a3a3a" stroke="#3a3a3a" stroke-width="0.18">&gt;3 y</text>
<text transform="translate(198.60,598.50) scale(0.9,1)" font-size="7.6" text-anchor="start" fill="#2b2b2b" stroke="#2b2b2b" stroke-width="0.18">0/50</text>
<text transform="translate(219.10,598.50) scale(0.88,1)" font-size="7.6" text-anchor="start" fill="#2b2b2b" stroke="#2b2b2b" stroke-width="0.18">0%</text>
<text transform="translate(241.30,598.50) scale(0.9,1)" font-size="7.6" text-anchor="start" fill="#2b2b2b" stroke="#2b2b2b" stroke-width="0.18">21/102</text>
<text transform="translate(266.90,598.50) scale(0.88,1)" font-size="7.6" text-anchor="start" fill="#2b2b2b" stroke="#2b2b2b" stroke-width="0.18">21%</text>
<text transform="translate(298.00,598.50) scale(0.88,1)" font-size="7.6" text-anchor="start" fill="#2b2b2b" stroke="#2b2b2b" stroke-width="0.18">21% (13%, 28%)</text>
<text transform="translate(33.70,608.23) scale(0.9,1)" font-size="7.6" text-anchor="start" fill="#2b2b2b" stroke="#2b2b2b" stroke-width="0.18" font-weight="bold">Prior splenectomy</text>
<text transform="translate(132.00,608.23) scale(0.94,1)" font-size="7.6" text-anchor="start" fill="#3a3a3a" stroke="#3a3a3a" stroke-width="0.18">Yes</text>
<text transform="translate(198.60,608.23) scale(0.9,1)" font-size="7.6" text-anchor="start" fill="#2b2b2b" stroke="#2b2b2b" stroke-width="0.18">0/19</text>
<text transform="translate(219.10,608.23) scale(0.88,1)" font-size="7.6" text-anchor="start" fill="#2b2b2b" stroke="#2b2b2b" stroke-width="0.18">0%</text>
<text transform="translate(241.30,608.23) scale(0.9,1)" font-size="7.6" text-anchor="start" fill="#2b2b2b" stroke="#2b2b2b" stroke-width="0.18">5/37</text>
<text transform="translate(266.90,608.23) scale(0.88,1)" font-size="7.6" text-anchor="start" fill="#2b2b2b" stroke="#2b2b2b" stroke-width="0.18">14%</text>
<text transform="translate(298.00,608.23) scale(0.88,1)" font-size="7.6" text-anchor="start" fill="#2b2b2b" stroke="#2b2b2b" stroke-width="0.18">14% (3%, 25%)</text>
<text transform="translate(132.00,617.96) scale(0.94,1)" font-size="7.6" text-anchor="start" fill="#3a3a3a" stroke="#3a3a3a" stroke-width="0.18">No</text>
<text transform="translate(198.60,617.96) scale(0.9,1)" font-size="7.6" text-anchor="start" fill="#2b2b2b" stroke="#2b2b2b" stroke-width="0.18">0/50</text>
<text transform="translate(219.10,617.96) scale(0.88,1)" font-size="7.6" text-anchor="start" fill="#2b2b2b" stroke="#2b2b2b" stroke-width="0.18">0%</text>
<text transform="translate(241.30,617.96) scale(0.9,1)" font-size="7.6" text-anchor="start" fill="#2b2b2b" stroke="#2b2b2b" stroke-width="0.18">26/96</text>
<text transform="translate(266.90,617.96) scale(0.88,1)" font-size="7.6" text-anchor="start" fill="#2b2b2b" stroke="#2b2b2b" stroke-width="0.18">27%</text>
<text transform="translate(298.00,617.96) scale(0.88,1)" font-size="7.6" text-anchor="start" fill="#2b2b2b" stroke="#2b2b2b" stroke-width="0.18">27% (18%, 36%)</text>
<text transform="translate(33.70,627.69) scale(0.9,1)" font-size="7.6" text-anchor="start" fill="#2b2b2b" stroke="#2b2b2b" stroke-width="0.18" font-weight="bold">Baseline platelet count</text>
<text transform="translate(132.00,627.69) scale(0.94,1)" font-size="7.6" text-anchor="start" fill="#3a3a3a" stroke="#3a3a3a" stroke-width="0.18">&lt;15×10⁹/L</text>
<text transform="translate(198.60,627.69) scale(0.9,1)" font-size="7.6" text-anchor="start" fill="#2b2b2b" stroke="#2b2b2b" stroke-width="0.18">0/32</text>
<text transform="translate(219.10,627.69) scale(0.88,1)" font-size="7.6" text-anchor="start" fill="#2b2b2b" stroke="#2b2b2b" stroke-width="0.18">0%</text>
<text transform="translate(241.30,627.69) scale(0.9,1)" font-size="7.6" text-anchor="start" fill="#2b2b2b" stroke="#2b2b2b" stroke-width="0.18">10/65</text>
<text transform="translate(266.90,627.69) scale(0.88,1)" font-size="7.6" text-anchor="start" fill="#2b2b2b" stroke="#2b2b2b" stroke-width="0.18">15%</text>
<text transform="translate(298.00,627.69) scale(0.88,1)" font-size="7.6" text-anchor="start" fill="#2b2b2b" stroke="#2b2b2b" stroke-width="0.18">15% (7%, 24%)</text>
<text transform="translate(132.00,637.42) scale(0.94,1)" font-size="7.6" text-anchor="start" fill="#3a3a3a" stroke="#3a3a3a" stroke-width="0.18">≥15×10⁹/L</text>
<text transform="translate(198.60,637.42) scale(0.9,1)" font-size="7.6" text-anchor="start" fill="#2b2b2b" stroke="#2b2b2b" stroke-width="0.18">0/37</text>
<text transform="translate(219.10,637.42) scale(0.88,1)" font-size="7.6" text-anchor="start" fill="#2b2b2b" stroke="#2b2b2b" stroke-width="0.18">0%</text>
<text transform="translate(241.30,637.42) scale(0.9,1)" font-size="7.6" text-anchor="start" fill="#2b2b2b" stroke="#2b2b2b" stroke-width="0.18">21/68</text>
<text transform="translate(266.90,637.42) scale(0.88,1)" font-size="7.6" text-anchor="start" fill="#2b2b2b" stroke="#2b2b2b" stroke-width="0.18">31%</text>
<text transform="translate(298.00,637.42) scale(0.88,1)" font-size="7.6" text-anchor="start" fill="#2b2b2b" stroke="#2b2b2b" stroke-width="0.18">31% (20%, 42%)</text>
<text transform="translate(33.70,647.15) scale(0.9,1)" font-size="7.6" text-anchor="start" fill="#2b2b2b" stroke="#2b2b2b" stroke-width="0.18" font-weight="bold">Prior CS</text>
<text transform="translate(132.00,647.15) scale(0.94,1)" font-size="7.6" text-anchor="start" fill="#3a3a3a" stroke="#3a3a3a" stroke-width="0.18">No</text>
<text transform="translate(198.60,647.15) scale(0.9,1)" font-size="7.6" text-anchor="start" fill="#2b2b2b" stroke="#2b2b2b" stroke-width="0.18">0/3</text>
<text transform="translate(219.10,647.15) scale(0.88,1)" font-size="7.6" text-anchor="start" fill="#2b2b2b" stroke="#2b2b2b" stroke-width="0.18">0%</text>
<text transform="translate(241.30,647.15) scale(0.9,1)" font-size="7.6" text-anchor="start" fill="#2b2b2b" stroke="#2b2b2b" stroke-width="0.18">1/6</text>
<text transform="translate(266.90,647.15) scale(0.88,1)" font-size="7.6" text-anchor="start" fill="#2b2b2b" stroke="#2b2b2b" stroke-width="0.18">17%</text>
<text transform="translate(298.00,647.15) scale(0.88,1)" font-size="7.6" text-anchor="start" fill="#2b2b2b" stroke="#2b2b2b" stroke-width="0.18">17% (–13%, 46%)</text>
<text transform="translate(132.00,656.88) scale(0.94,1)" font-size="7.6" text-anchor="start" fill="#3a3a3a" stroke="#3a3a3a" stroke-width="0.18">Yes</text>
<text transform="translate(198.60,656.88) scale(0.9,1)" font-size="7.6" text-anchor="start" fill="#2b2b2b" stroke="#2b2b2b" stroke-width="0.18">0/66</text>
<text transform="translate(219.10,656.88) scale(0.88,1)" font-size="7.6" text-anchor="start" fill="#2b2b2b" stroke="#2b2b2b" stroke-width="0.18">0%</text>
<text transform="translate(241.30,656.88) scale(0.9,1)" font-size="7.6" text-anchor="start" fill="#2b2b2b" stroke="#2b2b2b" stroke-width="0.18">30/127</text>
<text transform="translate(266.90,656.88) scale(0.88,1)" font-size="7.6" text-anchor="start" fill="#2b2b2b" stroke="#2b2b2b" stroke-width="0.18">24%</text>
<text transform="translate(298.00,656.88) scale(0.88,1)" font-size="7.6" text-anchor="start" fill="#2b2b2b" stroke="#2b2b2b" stroke-width="0.18">24% (16%, 31%)</text>
<text transform="translate(33.70,666.61) scale(0.9,1)" font-size="7.6" text-anchor="start" fill="#2b2b2b" stroke="#2b2b2b" stroke-width="0.18" font-weight="bold">Prior TPO-RA</text>
<text transform="translate(132.00,666.61) scale(0.94,1)" font-size="7.6" text-anchor="start" fill="#3a3a3a" stroke="#3a3a3a" stroke-width="0.18">No</text>
<text transform="translate(198.60,666.61) scale(0.9,1)" font-size="7.6" text-anchor="start" fill="#2b2b2b" stroke="#2b2b2b" stroke-width="0.18">0/18</text>
<text transform="translate(219.10,666.61) scale(0.88,1)" font-size="7.6" text-anchor="start" fill="#2b2b2b" stroke="#2b2b2b" stroke-width="0.18">0%</text>
<text transform="translate(241.30,666.61) scale(0.9,1)" font-size="7.6" text-anchor="start" fill="#2b2b2b" stroke="#2b2b2b" stroke-width="0.18">11/45</text>
<text transform="translate(266.90,666.61) scale(0.88,1)" font-size="7.6" text-anchor="start" fill="#2b2b2b" stroke="#2b2b2b" stroke-width="0.18">24%</text>
<text transform="translate(298.00,666.61) scale(0.88,1)" font-size="7.6" text-anchor="start" fill="#2b2b2b" stroke="#2b2b2b" stroke-width="0.18">24% (12%, 37%)</text>
<text transform="translate(132.00,676.34) scale(0.94,1)" font-size="7.6" text-anchor="start" fill="#3a3a3a" stroke="#3a3a3a" stroke-width="0.18">Yes</text>
<text transform="translate(198.60,676.34) scale(0.9,1)" font-size="7.6" text-anchor="start" fill="#2b2b2b" stroke="#2b2b2b" stroke-width="0.18">0/51</text>
<text transform="translate(219.10,676.34) scale(0.88,1)" font-size="7.6" text-anchor="start" fill="#2b2b2b" stroke="#2b2b2b" stroke-width="0.18">0%</text>
<text transform="translate(241.30,676.34) scale(0.9,1)" font-size="7.6" text-anchor="start" fill="#2b2b2b" stroke="#2b2b2b" stroke-width="0.18">20/88</text>
<text transform="translate(266.90,676.34) scale(0.88,1)" font-size="7.6" text-anchor="start" fill="#2b2b2b" stroke="#2b2b2b" stroke-width="0.18">23%</text>
<text transform="translate(298.00,676.34) scale(0.88,1)" font-size="7.6" text-anchor="start" fill="#2b2b2b" stroke="#2b2b2b" stroke-width="0.18">23% (14%, 31%)</text>
<text transform="translate(33.70,686.07) scale(0.9,1)" font-size="7.6" text-anchor="start" fill="#2b2b2b" stroke="#2b2b2b" stroke-width="0.18" font-weight="bold">Prior IVIg or anti-D</text>
<text transform="translate(132.00,686.07) scale(0.94,1)" font-size="7.6" text-anchor="start" fill="#3a3a3a" stroke="#3a3a3a" stroke-width="0.18">No</text>
<text transform="translate(198.60,686.07) scale(0.9,1)" font-size="7.6" text-anchor="start" fill="#2b2b2b" stroke="#2b2b2b" stroke-width="0.18">0/40</text>
<text transform="translate(219.10,686.07) scale(0.88,1)" font-size="7.6" text-anchor="start" fill="#2b2b2b" stroke="#2b2b2b" stroke-width="0.18">0%</text>
<text transform="translate(241.30,686.07) scale(0.9,1)" font-size="7.6" text-anchor="start" fill="#2b2b2b" stroke="#2b2b2b" stroke-width="0.18">15/72</text>
<text transform="translate(266.90,686.07) scale(0.88,1)" font-size="7.6" text-anchor="start" fill="#2b2b2b" stroke="#2b2b2b" stroke-width="0.18">21%</text>
<text transform="translate(298.00,686.07) scale(0.88,1)" font-size="7.6" text-anchor="start" fill="#2b2b2b" stroke="#2b2b2b" stroke-width="0.18">21% (11%, 30%)</text>
<text transform="translate(132.00,695.80) scale(0.94,1)" font-size="7.6" text-anchor="start" fill="#3a3a3a" stroke="#3a3a3a" stroke-width="0.18">Yes</text>
<text transform="translate(198.60,695.80) scale(0.9,1)" font-size="7.6" text-anchor="start" fill="#2b2b2b" stroke="#2b2b2b" stroke-width="0.18">0/29</text>
<text transform="translate(219.10,695.80) scale(0.88,1)" font-size="7.6" text-anchor="start" fill="#2b2b2b" stroke="#2b2b2b" stroke-width="0.18">0%</text>
<text transform="translate(241.30,695.80) scale(0.9,1)" font-size="7.6" text-anchor="start" fill="#2b2b2b" stroke="#2b2b2b" stroke-width="0.18">16/61</text>
<text transform="translate(266.90,695.80) scale(0.88,1)" font-size="7.6" text-anchor="start" fill="#2b2b2b" stroke="#2b2b2b" stroke-width="0.18">26%</text>
<text transform="translate(298.00,695.80) scale(0.88,1)" font-size="7.6" text-anchor="start" fill="#2b2b2b" stroke="#2b2b2b" stroke-width="0.18">26% (15%, 37%)</text>
<text transform="translate(33.70,705.53) scale(0.9,1)" font-size="7.6" text-anchor="start" fill="#2b2b2b" stroke="#2b2b2b" stroke-width="0.18" font-weight="bold">Prior rituximab</text>
<text transform="translate(132.00,705.53) scale(0.94,1)" font-size="7.6" text-anchor="start" fill="#3a3a3a" stroke="#3a3a3a" stroke-width="0.18">No</text>
<text transform="translate(198.60,705.53) scale(0.9,1)" font-size="7.6" text-anchor="start" fill="#2b2b2b" stroke="#2b2b2b" stroke-width="0.18">0/29</text>
<text transform="translate(219.10,705.53) scale(0.88,1)" font-size="7.6" text-anchor="start" fill="#2b2b2b" stroke="#2b2b2b" stroke-width="0.18">0%</text>
<text transform="translate(241.30,705.53) scale(0.9,1)" font-size="7.6" text-anchor="start" fill="#2b2b2b" stroke="#2b2b2b" stroke-width="0.18">7/42</text>
<text transform="translate(266.90,705.53) scale(0.88,1)" font-size="7.6" text-anchor="start" fill="#2b2b2b" stroke="#2b2b2b" stroke-width="0.18">17%</text>
<text transform="translate(298.00,705.53) scale(0.88,1)" font-size="7.6" text-anchor="start" fill="#2b2b2b" stroke="#2b2b2b" stroke-width="0.18">17% (5%, 28%)</text>
<text transform="translate(132.00,715.26) scale(0.94,1)" font-size="7.6" text-anchor="start" fill="#3a3a3a" stroke="#3a3a3a" stroke-width="0.18">Yes</text>
<text transform="translate(198.60,715.26) scale(0.9,1)" font-size="7.6" text-anchor="start" fill="#2b2b2b" stroke="#2b2b2b" stroke-width="0.18">0/40</text>
<text transform="translate(219.10,715.26) scale(0.88,1)" font-size="7.6" text-anchor="start" fill="#2b2b2b" stroke="#2b2b2b" stroke-width="0.18">0%</text>
<text transform="translate(241.30,715.26) scale(0.9,1)" font-size="7.6" text-anchor="start" fill="#2b2b2b" stroke="#2b2b2b" stroke-width="0.18">24/91</text>
<text transform="translate(266.90,715.26) scale(0.88,1)" font-size="7.6" text-anchor="start" fill="#2b2b2b" stroke="#2b2b2b" stroke-width="0.18">26%</text>
<text transform="translate(298.00,715.26) scale(0.88,1)" font-size="7.6" text-anchor="start" fill="#2b2b2b" stroke="#2b2b2b" stroke-width="0.18">26% (17%, 35%)</text>
<text transform="translate(33.70,724.99) scale(0.9,1)" font-size="7.6" text-anchor="start" fill="#2b2b2b" stroke="#2b2b2b" stroke-width="0.18" font-weight="bold">Concomitant medication</text>
<text transform="translate(132.00,724.99) scale(0.94,1)" font-size="7.6" text-anchor="start" fill="#3a3a3a" stroke="#3a3a3a" stroke-width="0.18">CS only</text>
<text transform="translate(198.60,724.99) scale(0.9,1)" font-size="7.6" text-anchor="start" fill="#2b2b2b" stroke="#2b2b2b" stroke-width="0.18">0/20</text>
<text transform="translate(219.10,724.99) scale(0.88,1)" font-size="7.6" text-anchor="start" fill="#2b2b2b" stroke="#2b2b2b" stroke-width="0.18">0%</text>
<text transform="translate(241.30,724.99) scale(0.9,1)" font-size="7.6" text-anchor="start" fill="#2b2b2b" stroke="#2b2b2b" stroke-width="0.18">8/34</text>
<text transform="translate(266.90,724.99) scale(0.88,1)" font-size="7.6" text-anchor="start" fill="#2b2b2b" stroke="#2b2b2b" stroke-width="0.18">24%</text>
<text transform="translate(298.00,724.99) scale(0.88,1)" font-size="7.6" text-anchor="start" fill="#2b2b2b" stroke="#2b2b2b" stroke-width="0.18">24% (9%, 38%)</text>
<text transform="translate(132.00,734.72) scale(0.94,1)" font-size="7.6" text-anchor="start" fill="#3a3a3a" stroke="#3a3a3a" stroke-width="0.18">TPO-RA only</text>
<text transform="translate(198.60,734.72) scale(0.9,1)" font-size="7.6" text-anchor="start" fill="#2b2b2b" stroke="#2b2b2b" stroke-width="0.18">0/12</text>
<text transform="translate(219.10,734.72) scale(0.88,1)" font-size="7.6" text-anchor="start" fill="#2b2b2b" stroke="#2b2b2b" stroke-width="0.18">0%</text>
<text transform="translate(241.30,734.72) scale(0.9,1)" font-size="7.6" text-anchor="start" fill="#2b2b2b" stroke="#2b2b2b" stroke-width="0.18">9/25</text>
<text transform="translate(266.90,734.72) scale(0.88,1)" font-size="7.6" text-anchor="start" fill="#2b2b2b" stroke="#2b2b2b" stroke-width="0.18">36%</text>
<text transform="translate(298.00,734.72) scale(0.88,1)" font-size="7.6" text-anchor="start" fill="#2b2b2b" stroke="#2b2b2b" stroke-width="0.18">36% (17%, 55%)</text>
<text transform="translate(132.00,744.45) scale(0.94,1)" font-size="7.6" text-anchor="start" fill="#3a3a3a" stroke="#3a3a3a" stroke-width="0.18">CS + TPO-RA</text>
<text transform="translate(198.60,744.45) scale(0.9,1)" font-size="7.6" text-anchor="start" fill="#2b2b2b" stroke="#2b2b2b" stroke-width="0.18">0/14</text>
<text transform="translate(219.10,744.45) scale(0.88,1)" font-size="7.6" text-anchor="start" fill="#2b2b2b" stroke="#2b2b2b" stroke-width="0.18">0%</text>
<text transform="translate(241.30,744.45) scale(0.9,1)" font-size="7.6" text-anchor="start" fill="#2b2b2b" stroke="#2b2b2b" stroke-width="0.18">5/21</text>
<text transform="translate(266.90,744.45) scale(0.88,1)" font-size="7.6" text-anchor="start" fill="#2b2b2b" stroke="#2b2b2b" stroke-width="0.18">24%</text>
<text transform="translate(298.00,744.45) scale(0.88,1)" font-size="7.6" text-anchor="start" fill="#2b2b2b" stroke="#2b2b2b" stroke-width="0.18">24% (6%, 42%)</text>
<text transform="translate(132.00,754.18) scale(0.94,1)" font-size="7.6" text-anchor="start" fill="#3a3a3a" stroke="#3a3a3a" stroke-width="0.18">None</text>
<text transform="translate(198.60,754.18) scale(0.9,1)" font-size="7.6" text-anchor="start" fill="#2b2b2b" stroke="#2b2b2b" stroke-width="0.18">0/23</text>
<text transform="translate(219.10,754.18) scale(0.88,1)" font-size="7.6" text-anchor="start" fill="#2b2b2b" stroke="#2b2b2b" stroke-width="0.18">0%</text>
<text transform="translate(241.30,754.18) scale(0.9,1)" font-size="7.6" text-anchor="start" fill="#2b2b2b" stroke="#2b2b2b" stroke-width="0.18">9/53</text>
<text transform="translate(266.90,754.18) scale(0.88,1)" font-size="7.6" text-anchor="start" fill="#2b2b2b" stroke="#2b2b2b" stroke-width="0.18">17%</text>
<text transform="translate(298.00,754.18) scale(0.88,1)" font-size="7.6" text-anchor="start" fill="#2b2b2b" stroke="#2b2b2b" stroke-width="0.18">17% (7%, 27%)</text>
<text transform="translate(33.70,763.91) scale(0.9,1)" font-size="7.6" text-anchor="start" fill="#2b2b2b" stroke="#2b2b2b" stroke-width="0.18" font-weight="bold">Geographic region</text>
<text transform="translate(132.00,763.91) scale(0.94,1)" font-size="7.6" text-anchor="start" fill="#3a3a3a" stroke="#3a3a3a" stroke-width="0.18">US</text>
<text transform="translate(198.60,763.91) scale(0.9,1)" font-size="7.6" text-anchor="start" fill="#2b2b2b" stroke="#2b2b2b" stroke-width="0.18">0/3</text>
<text transform="translate(219.10,763.91) scale(0.88,1)" font-size="7.6" text-anchor="start" fill="#2b2b2b" stroke="#2b2b2b" stroke-width="0.18">0%</text>
<text transform="translate(241.30,763.91) scale(0.9,1)" font-size="7.6" text-anchor="start" fill="#2b2b2b" stroke="#2b2b2b" stroke-width="0.18">3/12</text>
<text transform="translate(266.90,763.91) scale(0.88,1)" font-size="7.6" text-anchor="start" fill="#2b2b2b" stroke="#2b2b2b" stroke-width="0.18">25%</text>
<text transform="translate(298.00,763.91) scale(0.88,1)" font-size="7.6" text-anchor="start" fill="#2b2b2b" stroke="#2b2b2b" stroke-width="0.18">25% (1%, 50%)</text>
<text transform="translate(132.00,773.64) scale(0.94,1)" font-size="7.6" text-anchor="start" fill="#3a3a3a" stroke="#3a3a3a" stroke-width="0.18">Non-US</text>
<text transform="translate(198.60,773.64) scale(0.9,1)" font-size="7.6" text-anchor="start" fill="#2b2b2b" stroke="#2b2b2b" stroke-width="0.18">0/66</text>
<text transform="translate(219.10,773.64) scale(0.88,1)" font-size="7.6" text-anchor="start" fill="#2b2b2b" stroke="#2b2b2b" stroke-width="0.18">0%</text>
<text transform="translate(241.30,773.64) scale(0.9,1)" font-size="7.6" text-anchor="start" fill="#2b2b2b" stroke="#2b2b2b" stroke-width="0.18">28/121</text>
<text transform="translate(266.90,773.64) scale(0.88,1)" font-size="7.6" text-anchor="start" fill="#2b2b2b" stroke="#2b2b2b" stroke-width="0.18">23%</text>
<text transform="translate(298.00,773.64) scale(0.88,1)" font-size="7.6" text-anchor="start" fill="#2b2b2b" stroke="#2b2b2b" stroke-width="0.18">23% (16%, 31%)</text>
<text transform="translate(33.70,783.37) scale(0.9,1)" font-size="7.6" text-anchor="start" fill="#2b2b2b" stroke="#2b2b2b" stroke-width="0.18" font-weight="bold">Geographic region</text>
<text transform="translate(132.00,783.37) scale(0.94,1)" font-size="7.6" text-anchor="start" fill="#3a3a3a" stroke="#3a3a3a" stroke-width="0.18">Asia/Pacific</text>
<text transform="translate(198.60,783.37) scale(0.9,1)" font-size="7.6" text-anchor="start" fill="#2b2b2b" stroke="#2b2b2b" stroke-width="0.18">0/26</text>
<text transform="translate(219.10,783.37) scale(0.88,1)" font-size="7.6" text-anchor="start" fill="#2b2b2b" stroke="#2b2b2b" stroke-width="0.18">0%</text>
<text transform="translate(241.30,783.37) scale(0.9,1)" font-size="7.6" text-anchor="start" fill="#2b2b2b" stroke="#2b2b2b" stroke-width="0.18">12/44</text>
<text transform="translate(266.90,783.37) scale(0.88,1)" font-size="7.6" text-anchor="start" fill="#2b2b2b" stroke="#2b2b2b" stroke-width="0.18">27%</text>
<text transform="translate(298.00,783.37) scale(0.88,1)" font-size="7.6" text-anchor="start" fill="#2b2b2b" stroke="#2b2b2b" stroke-width="0.18">27% (14%, 40%)</text>
<text transform="translate(132.00,793.10) scale(0.94,1)" font-size="7.6" text-anchor="start" fill="#3a3a3a" stroke="#3a3a3a" stroke-width="0.18">Western Europe</text>
<text transform="translate(198.60,793.10) scale(0.9,1)" font-size="7.6" text-anchor="start" fill="#2b2b2b" stroke="#2b2b2b" stroke-width="0.18">0/16</text>
<text transform="translate(219.10,793.10) scale(0.88,1)" font-size="7.6" text-anchor="start" fill="#2b2b2b" stroke="#2b2b2b" stroke-width="0.18">0%</text>
<text transform="translate(241.30,793.10) scale(0.9,1)" font-size="7.6" text-anchor="start" fill="#2b2b2b" stroke="#2b2b2b" stroke-width="0.18">4/33</text>
<text transform="translate(266.90,793.10) scale(0.88,1)" font-size="7.6" text-anchor="start" fill="#2b2b2b" stroke="#2b2b2b" stroke-width="0.18">12%</text>
<text transform="translate(298.00,793.10) scale(0.88,1)" font-size="7.6" text-anchor="start" fill="#2b2b2b" stroke="#2b2b2b" stroke-width="0.18">12% (1%, 23%)</text>
<text transform="translate(132.00,802.83) scale(0.94,1)" font-size="7.6" text-anchor="start" fill="#3a3a3a" stroke="#3a3a3a" stroke-width="0.18">Eastern Europe</text>
<text transform="translate(198.60,802.83) scale(0.9,1)" font-size="7.6" text-anchor="start" fill="#2b2b2b" stroke="#2b2b2b" stroke-width="0.18">0/13</text>
<text transform="translate(219.10,802.83) scale(0.88,1)" font-size="7.6" text-anchor="start" fill="#2b2b2b" stroke="#2b2b2b" stroke-width="0.18">0%</text>
<text transform="translate(241.30,802.83) scale(0.9,1)" font-size="7.6" text-anchor="start" fill="#2b2b2b" stroke="#2b2b2b" stroke-width="0.18">8/19</text>
<text transform="translate(266.90,802.83) scale(0.88,1)" font-size="7.6" text-anchor="start" fill="#2b2b2b" stroke="#2b2b2b" stroke-width="0.18">42%</text>
<text transform="translate(298.00,802.83) scale(0.88,1)" font-size="7.6" text-anchor="start" fill="#2b2b2b" stroke="#2b2b2b" stroke-width="0.18">42% (20%, 64%)</text>
<text transform="translate(132.00,812.56) scale(0.94,1)" font-size="7.6" text-anchor="start" fill="#3a3a3a" stroke="#3a3a3a" stroke-width="0.18">North America</text>
<text transform="translate(198.60,812.56) scale(0.9,1)" font-size="7.6" text-anchor="start" fill="#2b2b2b" stroke="#2b2b2b" stroke-width="0.18">0/3</text>
<text transform="translate(219.10,812.56) scale(0.88,1)" font-size="7.6" text-anchor="start" fill="#2b2b2b" stroke="#2b2b2b" stroke-width="0.18">0%</text>
<text transform="translate(241.30,812.56) scale(0.9,1)" font-size="7.6" text-anchor="start" fill="#2b2b2b" stroke="#2b2b2b" stroke-width="0.18">3/13</text>
<text transform="translate(266.90,812.56) scale(0.88,1)" font-size="7.6" text-anchor="start" fill="#2b2b2b" stroke="#2b2b2b" stroke-width="0.18">23%</text>
<text transform="translate(298.00,812.56) scale(0.88,1)" font-size="7.6" text-anchor="start" fill="#2b2b2b" stroke="#2b2b2b" stroke-width="0.18">23% (0.2%, 46%)</text>
<text transform="translate(132.00,822.29) scale(0.94,1)" font-size="7.6" text-anchor="start" fill="#3a3a3a" stroke="#3a3a3a" stroke-width="0.18">South America</text>
<text transform="translate(198.60,822.29) scale(0.9,1)" font-size="7.6" text-anchor="start" fill="#2b2b2b" stroke="#2b2b2b" stroke-width="0.18">0/11</text>
<text transform="translate(219.10,822.29) scale(0.88,1)" font-size="7.6" text-anchor="start" fill="#2b2b2b" stroke="#2b2b2b" stroke-width="0.18">0%</text>
<text transform="translate(241.30,822.29) scale(0.9,1)" font-size="7.6" text-anchor="start" fill="#2b2b2b" stroke="#2b2b2b" stroke-width="0.18">4/24</text>
<text transform="translate(266.90,822.29) scale(0.88,1)" font-size="7.6" text-anchor="start" fill="#2b2b2b" stroke="#2b2b2b" stroke-width="0.18">17%</text>
<text transform="translate(298.00,822.29) scale(0.88,1)" font-size="7.6" text-anchor="start" fill="#2b2b2b" stroke="#2b2b2b" stroke-width="0.18">17% (2%, 32%)</text>
<line x1="412.46" y1="498.50" x2="435.00" y2="498.50" stroke="#3a3a3a" stroke-width="1.5"/>
<line x1="406.02" y1="508.23" x2="433.39" y2="508.23" stroke="#3a3a3a" stroke-width="1.5"/>
<line x1="412.46" y1="517.96" x2="457.54" y2="517.96" stroke="#3a3a3a" stroke-width="1.5"/>
<line x1="378.65" y1="527.69" x2="483.30" y2="527.69" stroke="#3a3a3a" stroke-width="1.5"/>
<line x1="414.07" y1="537.42" x2="439.83" y2="537.42" stroke="#3a3a3a" stroke-width="1.5"/>
<line x1="385.57" y1="547.15" x2="433.39" y2="547.15" stroke="#3a3a3a" stroke-width="1.5"/>
<line x1="394.75" y1="556.88" x2="425.34" y2="556.88" stroke="#3a3a3a" stroke-width="1.5"/>
<line x1="417.29" y1="566.61" x2="451.10" y2="566.61" stroke="#3a3a3a" stroke-width="1.5"/>
<line x1="389.92" y1="576.34" x2="480.08" y2="576.34" stroke="#3a3a3a" stroke-width="1.5"/>
<line x1="407.63" y1="586.07" x2="473.64" y2="586.07" stroke="#3a3a3a" stroke-width="1.5"/>
<line x1="407.63" y1="595.80" x2="431.78" y2="595.80" stroke="#3a3a3a" stroke-width="1.5"/>
<line x1="391.53" y1="605.53" x2="426.95" y2="605.53" stroke="#3a3a3a" stroke-width="1.5"/>
<line x1="415.68" y1="615.26" x2="444.66" y2="615.26" stroke="#3a3a3a" stroke-width="1.5"/>
<line x1="397.97" y1="624.99" x2="425.34" y2="624.99" stroke="#3a3a3a" stroke-width="1.5"/>
<line x1="418.90" y1="634.72" x2="454.32" y2="634.72" stroke="#3a3a3a" stroke-width="1.5"/>
<line x1="365.77" y1="644.45" x2="481.21" y2="644.45" stroke="#3a3a3a" stroke-width="1.5"/>
<line x1="412.46" y1="654.18" x2="436.61" y2="654.18" stroke="#3a3a3a" stroke-width="1.5"/>
<line x1="406.02" y1="663.91" x2="446.27" y2="663.91" stroke="#3a3a3a" stroke-width="1.5"/>
<line x1="409.24" y1="673.64" x2="436.61" y2="673.64" stroke="#3a3a3a" stroke-width="1.5"/>
<line x1="404.41" y1="683.37" x2="435.00" y2="683.37" stroke="#3a3a3a" stroke-width="1.5"/>
<line x1="410.85" y1="693.10" x2="446.27" y2="693.10" stroke="#3a3a3a" stroke-width="1.5"/>
<line x1="394.75" y1="702.83" x2="431.78" y2="702.83" stroke="#3a3a3a" stroke-width="1.5"/>
<line x1="414.07" y1="712.56" x2="443.05" y2="712.56" stroke="#3a3a3a" stroke-width="1.5"/>
<line x1="401.19" y1="722.29" x2="447.88" y2="722.29" stroke="#3a3a3a" stroke-width="1.5"/>
<line x1="414.07" y1="732.02" x2="475.25" y2="732.02" stroke="#3a3a3a" stroke-width="1.5"/>
<line x1="396.36" y1="741.75" x2="454.32" y2="741.75" stroke="#3a3a3a" stroke-width="1.5"/>
<line x1="397.97" y1="751.48" x2="430.17" y2="751.48" stroke="#3a3a3a" stroke-width="1.5"/>
<line x1="388.31" y1="761.21" x2="467.20" y2="761.21" stroke="#3a3a3a" stroke-width="1.5"/>
<line x1="412.46" y1="770.94" x2="436.61" y2="770.94" stroke="#3a3a3a" stroke-width="1.5"/>
<line x1="409.24" y1="780.67" x2="451.10" y2="780.67" stroke="#3a3a3a" stroke-width="1.5"/>
<line x1="388.31" y1="790.40" x2="423.73" y2="790.40" stroke="#3a3a3a" stroke-width="1.5"/>
<line x1="418.90" y1="800.13" x2="489.74" y2="800.13" stroke="#3a3a3a" stroke-width="1.5"/>
<line x1="387.02" y1="809.86" x2="460.76" y2="809.86" stroke="#3a3a3a" stroke-width="1.5"/>
<line x1="389.92" y1="819.59" x2="438.22" y2="819.59" stroke="#3a3a3a" stroke-width="1.5"/>
<circle cx="423.73" cy="498.50" r="2.6" fill="#e8982a"/>
<circle cx="418.90" cy="508.23" r="2.6" fill="#e8982a"/>
<circle cx="435.00" cy="517.96" r="2.6" fill="#e8982a"/>
<circle cx="426.95" cy="527.69" r="2.6" fill="#e8982a"/>
<circle cx="426.95" cy="537.42" r="2.6" fill="#e8982a"/>
<circle cx="409.24" cy="547.15" r="2.6" fill="#e8982a"/>
<circle cx="410.85" cy="556.88" r="2.6" fill="#e8982a"/>
<circle cx="433.39" cy="566.61" r="2.6" fill="#e8982a"/>
<circle cx="435.00" cy="576.34" r="2.6" fill="#e8982a"/>
<circle cx="439.83" cy="586.07" r="2.6" fill="#e8982a"/>
<circle cx="420.51" cy="595.80" r="2.6" fill="#e8982a"/>
<circle cx="409.24" cy="605.53" r="2.6" fill="#e8982a"/>
<circle cx="430.17" cy="615.26" r="2.6" fill="#e8982a"/>
<circle cx="410.85" cy="624.99" r="2.6" fill="#e8982a"/>
<circle cx="436.61" cy="634.72" r="2.6" fill="#e8982a"/>
<circle cx="414.07" cy="644.45" r="2.6" fill="#e8982a"/>
<circle cx="425.34" cy="654.18" r="2.6" fill="#e8982a"/>
<circle cx="425.34" cy="663.91" r="2.6" fill="#e8982a"/>
<circle cx="423.73" cy="673.64" r="2.6" fill="#e8982a"/>
<circle cx="420.51" cy="683.37" r="2.6" fill="#e8982a"/>
<circle cx="428.56" cy="693.10" r="2.6" fill="#e8982a"/>
<circle cx="414.07" cy="702.83" r="2.6" fill="#e8982a"/>
<circle cx="428.56" cy="712.56" r="2.6" fill="#e8982a"/>
<circle cx="425.34" cy="722.29" r="2.6" fill="#e8982a"/>
<circle cx="444.66" cy="732.02" r="2.6" fill="#e8982a"/>
<circle cx="425.34" cy="741.75" r="2.6" fill="#e8982a"/>
<circle cx="414.07" cy="751.48" r="2.6" fill="#e8982a"/>
<circle cx="426.95" cy="761.21" r="2.6" fill="#e8982a"/>
<circle cx="423.73" cy="770.94" r="2.6" fill="#e8982a"/>
<circle cx="430.17" cy="780.67" r="2.6" fill="#e8982a"/>
<circle cx="406.02" cy="790.40" r="2.6" fill="#e8982a"/>
<circle cx="454.32" cy="800.13" r="2.6" fill="#e8982a"/>
<circle cx="423.73" cy="809.86" r="2.6" fill="#e8982a"/>
<circle cx="414.07" cy="819.59" r="2.6" fill="#e8982a"/>
<line x1="386.70" y1="493.00" x2="386.70" y2="825.30" stroke="#111" stroke-width="1.4"/>
<line x1="353.20" y1="824.70" x2="502.70" y2="824.70" stroke="#111" stroke-width="1.3"/>
<line x1="354.50" y1="824.70" x2="354.50" y2="828.30" stroke="#111" stroke-width="1.2"/>
<text x="354.50" y="839.20" font-size="9.6" text-anchor="middle" fill="#2b2b2b" stroke="#2b2b2b" stroke-width="0.18">−20</text>
<line x1="370.60" y1="824.70" x2="370.60" y2="828.30" stroke="#111" stroke-width="1.2"/>
<text x="370.60" y="839.20" font-size="9.6" text-anchor="middle" fill="#2b2b2b" stroke="#2b2b2b" stroke-width="0.18">−10</text>
<line x1="386.70" y1="824.70" x2="386.70" y2="828.30" stroke="#111" stroke-width="1.2"/>
<text x="386.70" y="839.20" font-size="9.6" text-anchor="middle" fill="#2b2b2b" stroke="#2b2b2b" stroke-width="0.18">0</text>
<line x1="402.80" y1="824.70" x2="402.80" y2="828.30" stroke="#111" stroke-width="1.2"/>
<text x="402.80" y="839.20" font-size="9.6" text-anchor="middle" fill="#2b2b2b" stroke="#2b2b2b" stroke-width="0.18">10</text>
<line x1="418.90" y1="824.70" x2="418.90" y2="828.30" stroke="#111" stroke-width="1.2"/>
<text x="418.90" y="839.20" font-size="9.6" text-anchor="middle" fill="#2b2b2b" stroke="#2b2b2b" stroke-width="0.18">20</text>
<line x1="435.00" y1="824.70" x2="435.00" y2="828.30" stroke="#111" stroke-width="1.2"/>
<text x="435.00" y="839.20" font-size="9.6" text-anchor="middle" fill="#2b2b2b" stroke="#2b2b2b" stroke-width="0.18">30</text>
<line x1="451.10" y1="824.70" x2="451.10" y2="828.30" stroke="#111" stroke-width="1.2"/>
<text x="451.10" y="839.20" font-size="9.6" text-anchor="middle" fill="#2b2b2b" stroke="#2b2b2b" stroke-width="0.18">40</text>
<line x1="467.20" y1="824.70" x2="467.20" y2="828.30" stroke="#111" stroke-width="1.2"/>
<text x="467.20" y="839.20" font-size="9.6" text-anchor="middle" fill="#2b2b2b" stroke="#2b2b2b" stroke-width="0.18">50</text>
<line x1="483.30" y1="824.70" x2="483.30" y2="828.30" stroke="#111" stroke-width="1.2"/>
<text x="483.30" y="839.20" font-size="9.6" text-anchor="middle" fill="#2b2b2b" stroke="#2b2b2b" stroke-width="0.18">60</text>
<line x1="499.40" y1="824.70" x2="499.40" y2="828.30" stroke="#111" stroke-width="1.2"/>
<text x="499.40" y="839.20" font-size="9.6" text-anchor="middle" fill="#2b2b2b" stroke="#2b2b2b" stroke-width="0.18">70</text>
<text x="427.40" y="855.00" font-size="10.6" text-anchor="middle" fill="#2b2b2b" stroke="#2b2b2b" stroke-width="0.18" textLength="103" lengthAdjust="spacingAndGlyphs">Durable platelet response:</text>
<text x="427.60" y="868.00" font-size="10.6" text-anchor="middle" fill="#2b2b2b" stroke="#2b2b2b" stroke-width="0.18" textLength="155.8" lengthAdjust="spacingAndGlyphs">placebo vs rilzabrutinib difference, % (CI)</text>
<rect x="0.5" y="0.5" width="519" height="878" fill="none" stroke="#3d3d3d" stroke-width="1"/>
</svg>
</body></html>
